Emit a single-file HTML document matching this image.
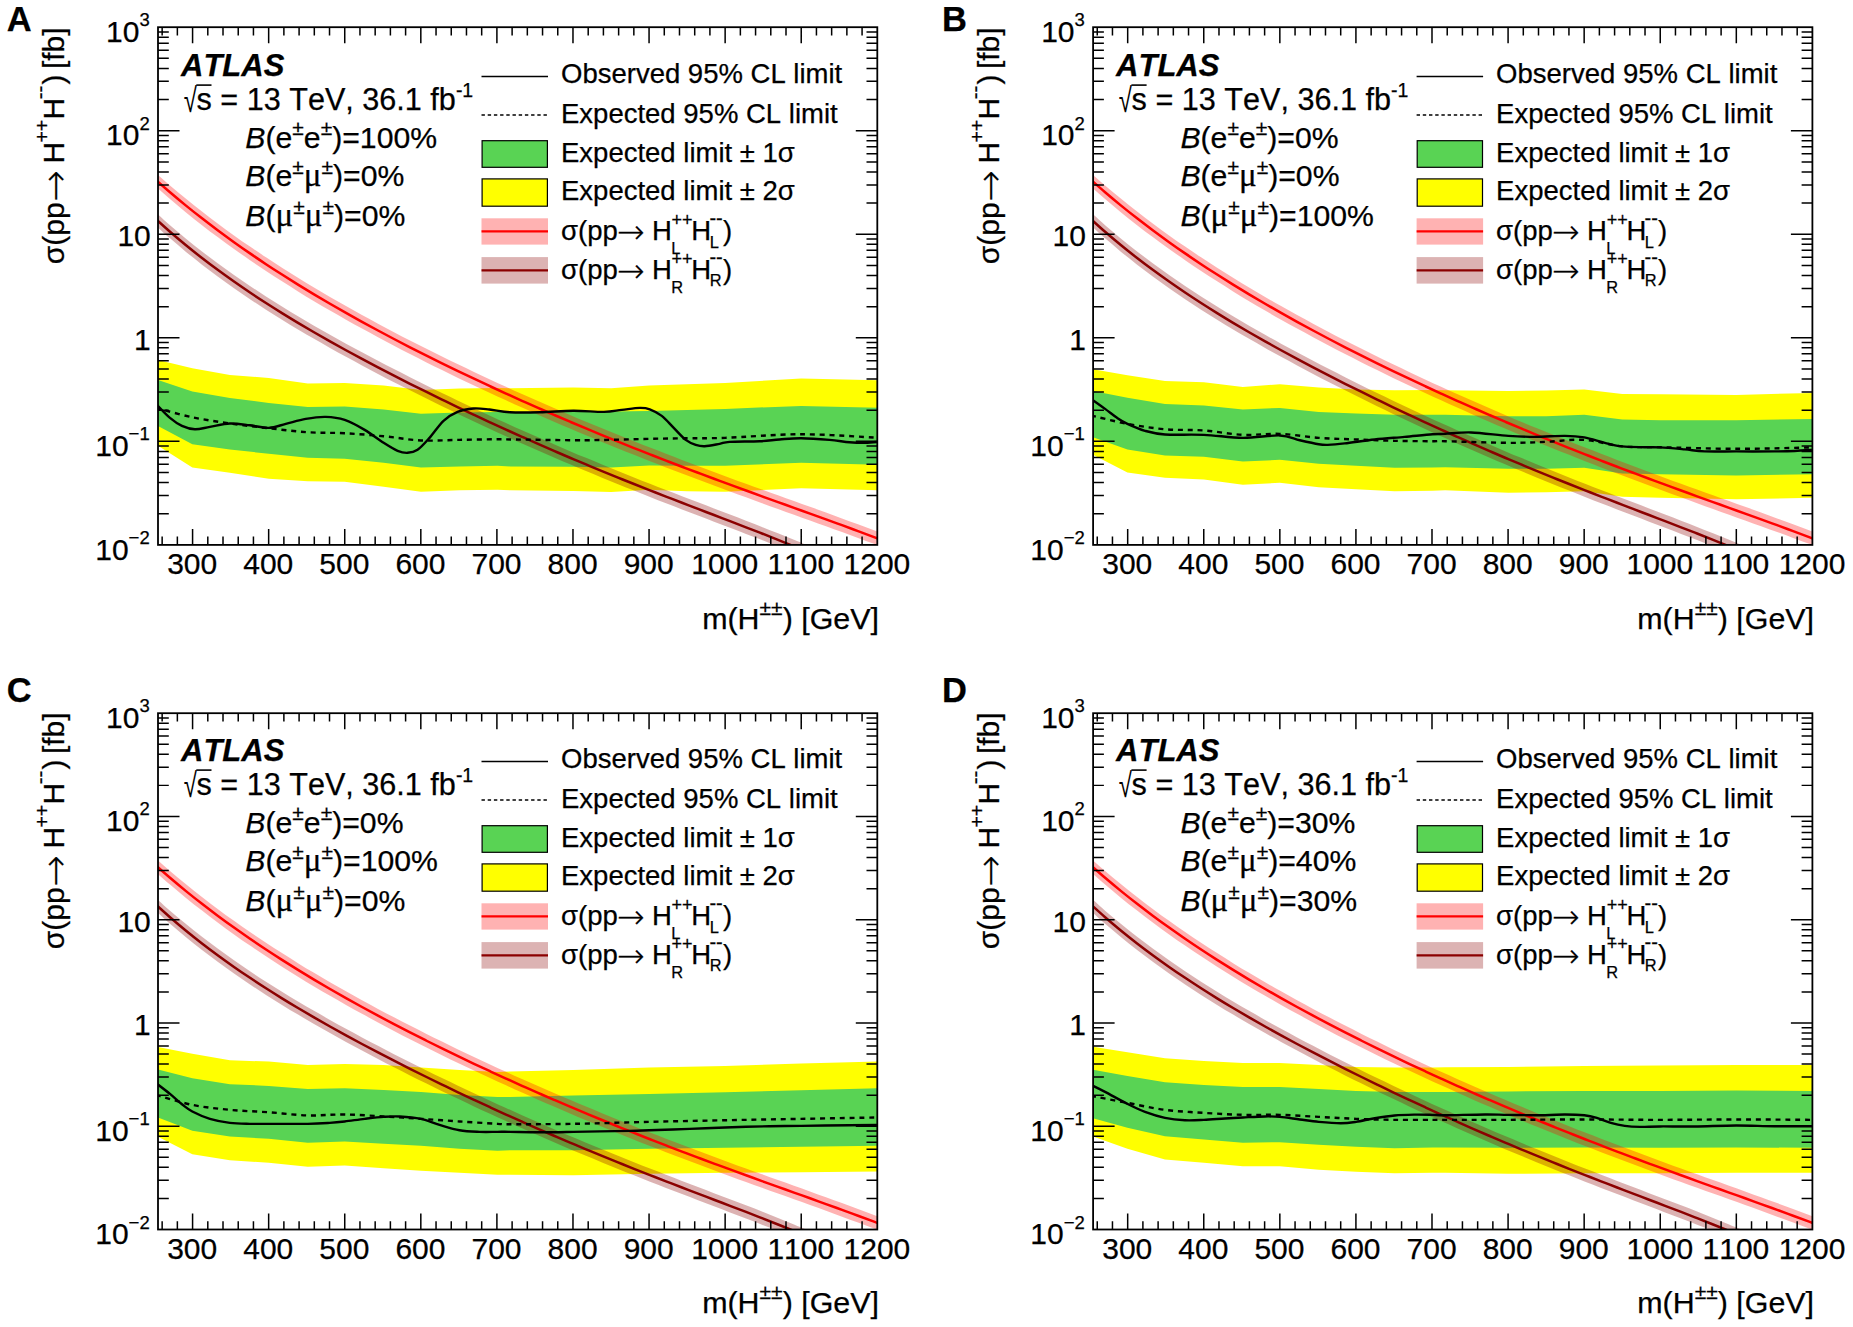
<!DOCTYPE html>
<html lang="en"><head><meta charset="utf-8"><title>Cross-section limits</title>
<style>html,body{margin:0;padding:0;background:#fff}svg{display:block}text{font-kerning:none;stroke:#000;stroke-width:.25px}</style></head><body>
<svg width="1853" height="1327" viewBox="0 0 1853 1327">
<rect width="1853" height="1327" fill="#fff"/>
<g transform="translate(158.00 27.20) scale(1 1.00000)">
<clipPath id="clipA"><rect x="0" y="0" width="719.30" height="517.70"/></clipPath>
<g clip-path="url(#clipA)">
<path d="M-2.00 332.36 L34.33 340.94 L71.87 347.73 L110.81 350.73 L149.75 356.32 L186.69 355.72 L225.63 358.32 L262.97 362.71 L301.50 361.31 L339.44 360.71 L352.00 361.11 L415.30 360.31 L453.24 361.11 L491.18 358.32 L529.12 357.12 L567.06 355.72 L643.13 351.33 L721.50 353.12 L721.50 462.96 L643.13 461.16 L567.06 464.56 L529.12 464.16 L491.18 462.56 L453.24 464.76 L415.30 463.76 L352.00 463.16 L339.44 462.56 L301.50 463.16 L262.97 464.56 L225.63 459.56 L186.69 454.57 L149.75 453.97 L110.81 451.58 L71.87 445.59 L34.33 440.19 L-2.00 417.23Z" fill="#ffff00"/>
<path d="M-2.00 352.13 L34.33 364.31 L71.87 370.70 L110.81 375.69 L149.75 379.68 L186.69 379.29 L225.63 382.28 L262.97 386.67 L301.50 385.28 L339.44 384.68 L352.00 384.68 L415.30 384.28 L453.24 384.28 L491.18 383.68 L529.12 382.68 L567.06 381.68 L643.13 378.69 L721.50 380.68 L721.50 437.60 L643.13 435.60 L567.06 438.60 L529.12 438.60 L491.18 438.20 L453.24 440.19 L415.30 439.59 L352.00 439.20 L339.44 438.60 L301.50 439.20 L262.97 440.19 L225.63 435.60 L186.69 431.61 L149.75 430.61 L110.81 426.61 L71.87 422.22 L34.33 417.03 L-2.00 397.66Z" fill="#59d354"/>
<path d="M-4.00 144.25 C-1.33 146.58 6.67 153.70 12.00 158.26 C17.33 162.82 22.67 167.26 28.00 171.61 C33.33 175.95 38.67 180.19 44.00 184.34 C49.33 188.50 54.67 192.55 60.00 196.52 C65.33 200.50 70.67 204.38 76.00 208.19 C81.33 212.00 86.67 215.73 92.00 219.39 C97.33 223.06 102.67 226.65 108.00 230.17 C113.33 233.70 118.67 237.16 124.00 240.57 C129.33 243.97 134.67 247.31 140.00 250.61 C145.33 253.90 150.67 257.14 156.00 260.33 C161.33 263.52 166.67 266.66 172.00 269.75 C177.33 272.85 182.67 275.90 188.00 278.91 C193.33 281.92 198.67 284.89 204.00 287.82 C209.33 290.75 214.67 293.65 220.00 296.51 C225.33 299.37 230.67 302.19 236.00 304.98 C241.33 307.78 246.67 310.54 252.00 313.27 C257.33 316.00 262.67 318.70 268.00 321.37 C273.33 324.04 278.67 326.69 284.00 329.31 C289.33 331.93 294.67 334.52 300.00 337.09 C305.33 339.66 310.67 342.20 316.00 344.72 C321.33 347.24 326.67 349.73 332.00 352.21 C337.33 354.68 342.67 357.13 348.00 359.56 C353.33 361.99 358.67 364.40 364.00 366.79 C369.33 369.17 374.67 371.54 380.00 373.89 C385.33 376.23 390.67 378.56 396.00 380.86 C401.33 383.17 406.67 385.46 412.00 387.72 C417.33 389.99 422.67 392.24 428.00 394.47 C433.33 396.70 438.67 398.91 444.00 401.11 C449.33 403.30 454.67 405.47 460.00 407.63 C465.33 409.79 470.67 411.93 476.00 414.06 C481.33 416.18 486.67 418.29 492.00 420.38 C497.33 422.47 502.67 424.54 508.00 426.61 C513.33 428.67 518.67 430.71 524.00 432.74 C529.33 434.77 534.67 436.79 540.00 438.79 C545.33 440.80 550.67 442.79 556.00 444.77 C561.33 446.75 566.67 448.72 572.00 450.68 C577.33 452.64 582.67 454.58 588.00 456.53 C593.33 458.47 598.67 460.40 604.00 462.33 C609.33 464.26 614.67 466.18 620.00 468.10 C625.33 470.02 630.67 471.94 636.00 473.85 C641.33 475.77 646.67 477.69 652.00 479.61 C657.33 481.53 662.67 483.45 668.00 485.38 C673.33 487.31 678.67 489.25 684.00 491.20 C689.33 493.15 694.67 495.11 700.00 497.08 C705.33 499.06 710.67 501.05 716.00 503.07 C721.33 505.08 729.33 508.16 732.00 509.17 L732.00 522.77 C729.33 521.76 721.33 518.68 716.00 516.67 C710.67 514.65 705.33 512.66 700.00 510.68 C694.67 508.71 689.33 506.75 684.00 504.80 C678.67 502.85 673.33 500.91 668.00 498.98 C662.67 497.05 657.33 495.13 652.00 493.21 C646.67 491.29 641.33 489.37 636.00 487.45 C630.67 485.54 625.33 483.62 620.00 481.70 C614.67 479.78 609.33 477.86 604.00 475.93 C598.67 474.00 593.33 472.07 588.00 470.13 C582.67 468.18 577.33 466.24 572.00 464.28 C566.67 462.32 561.33 460.35 556.00 458.37 C550.67 456.39 545.33 454.40 540.00 452.39 C534.67 450.39 529.33 448.37 524.00 446.34 C518.67 444.31 513.33 442.27 508.00 440.21 C502.67 438.14 497.33 436.07 492.00 433.98 C486.67 431.89 481.33 429.78 476.00 427.66 C470.67 425.53 465.33 423.39 460.00 421.23 C454.67 419.07 449.33 416.90 444.00 414.71 C438.67 412.51 433.33 410.30 428.00 408.07 C422.67 405.84 417.33 403.59 412.00 401.32 C406.67 399.06 401.33 396.77 396.00 394.46 C390.67 392.16 385.33 389.83 380.00 387.49 C374.67 385.14 369.33 382.77 364.00 380.39 C358.67 378.00 353.33 375.59 348.00 373.16 C342.67 370.73 337.33 368.28 332.00 365.81 C326.67 363.33 321.33 360.84 316.00 358.32 C310.67 355.80 305.33 353.26 300.00 350.69 C294.67 348.12 289.33 345.53 284.00 342.91 C278.67 340.29 273.33 337.64 268.00 334.97 C262.67 332.30 257.33 329.60 252.00 326.87 C246.67 324.14 241.33 321.38 236.00 318.58 C230.67 315.79 225.33 312.97 220.00 310.11 C214.67 307.25 209.33 304.35 204.00 301.42 C198.67 298.49 193.33 295.52 188.00 292.51 C182.67 289.50 177.33 286.45 172.00 283.35 C166.67 280.26 161.33 277.12 156.00 273.93 C150.67 270.74 145.33 267.50 140.00 264.21 C134.67 260.91 129.33 257.57 124.00 254.17 C118.67 250.76 113.33 247.30 108.00 243.77 C102.67 240.25 97.33 236.66 92.00 232.99 C86.67 229.33 81.33 225.60 76.00 221.79 C70.67 217.98 65.33 214.10 60.00 210.12 C54.67 206.15 49.33 202.10 44.00 197.94 C38.67 193.79 33.33 189.55 28.00 185.21 C22.67 180.86 17.33 176.42 12.00 171.86 C6.67 167.30 -1.33 160.18 -4.00 157.85Z" fill="#ff0000" fill-opacity="0.3"/>
<path d="M-4.00 151.05 C-1.33 153.38 6.67 160.50 12.00 165.06 C17.33 169.62 22.67 174.06 28.00 178.41 C33.33 182.75 38.67 186.99 44.00 191.14 C49.33 195.30 54.67 199.35 60.00 203.32 C65.33 207.30 70.67 211.18 76.00 214.99 C81.33 218.80 86.67 222.53 92.00 226.19 C97.33 229.86 102.67 233.45 108.00 236.97 C113.33 240.50 118.67 243.96 124.00 247.37 C129.33 250.77 134.67 254.11 140.00 257.41 C145.33 260.70 150.67 263.94 156.00 267.13 C161.33 270.32 166.67 273.46 172.00 276.55 C177.33 279.65 182.67 282.70 188.00 285.71 C193.33 288.72 198.67 291.69 204.00 294.62 C209.33 297.55 214.67 300.45 220.00 303.31 C225.33 306.17 230.67 308.99 236.00 311.78 C241.33 314.58 246.67 317.34 252.00 320.07 C257.33 322.80 262.67 325.50 268.00 328.17 C273.33 330.84 278.67 333.49 284.00 336.11 C289.33 338.73 294.67 341.32 300.00 343.89 C305.33 346.46 310.67 349.00 316.00 351.52 C321.33 354.04 326.67 356.53 332.00 359.01 C337.33 361.48 342.67 363.93 348.00 366.36 C353.33 368.79 358.67 371.20 364.00 373.59 C369.33 375.97 374.67 378.34 380.00 380.69 C385.33 383.03 390.67 385.36 396.00 387.66 C401.33 389.97 406.67 392.26 412.00 394.52 C417.33 396.79 422.67 399.04 428.00 401.27 C433.33 403.50 438.67 405.71 444.00 407.91 C449.33 410.10 454.67 412.27 460.00 414.43 C465.33 416.59 470.67 418.73 476.00 420.86 C481.33 422.98 486.67 425.09 492.00 427.18 C497.33 429.27 502.67 431.34 508.00 433.41 C513.33 435.47 518.67 437.51 524.00 439.54 C529.33 441.57 534.67 443.59 540.00 445.59 C545.33 447.60 550.67 449.59 556.00 451.57 C561.33 453.55 566.67 455.52 572.00 457.48 C577.33 459.44 582.67 461.38 588.00 463.33 C593.33 465.27 598.67 467.20 604.00 469.13 C609.33 471.06 614.67 472.98 620.00 474.90 C625.33 476.82 630.67 478.74 636.00 480.65 C641.33 482.57 646.67 484.49 652.00 486.41 C657.33 488.33 662.67 490.25 668.00 492.18 C673.33 494.11 678.67 496.05 684.00 498.00 C689.33 499.95 694.67 501.91 700.00 503.88 C705.33 505.86 710.67 507.85 716.00 509.87 C721.33 511.88 729.33 514.96 732.00 515.97" fill="none" stroke="#ff0000" stroke-width="2.5"/>
<path d="M-4.00 183.61 C-1.33 186.01 6.67 193.33 12.00 197.97 C17.33 202.62 22.67 207.11 28.00 211.48 C33.33 215.86 38.67 220.09 44.00 224.23 C49.33 228.37 54.67 232.38 60.00 236.31 C65.33 240.24 70.67 244.05 76.00 247.79 C81.33 251.53 86.67 255.17 92.00 258.74 C97.33 262.32 102.67 265.81 108.00 269.24 C113.33 272.66 118.67 276.02 124.00 279.32 C129.33 282.62 134.67 285.85 140.00 289.04 C145.33 292.22 150.67 295.35 156.00 298.44 C161.33 301.53 166.67 304.57 172.00 307.57 C177.33 310.57 182.67 313.52 188.00 316.44 C193.33 319.37 198.67 322.25 204.00 325.10 C209.33 327.96 214.67 330.77 220.00 333.56 C225.33 336.35 230.67 339.11 236.00 341.85 C241.33 344.58 246.67 347.29 252.00 349.97 C257.33 352.65 262.67 355.31 268.00 357.94 C273.33 360.58 278.67 363.19 284.00 365.78 C289.33 368.36 294.67 370.93 300.00 373.48 C305.33 376.02 310.67 378.54 316.00 381.05 C321.33 383.55 326.67 386.03 332.00 388.50 C337.33 390.96 342.67 393.40 348.00 395.82 C353.33 398.24 358.67 400.65 364.00 403.03 C369.33 405.41 374.67 407.77 380.00 410.11 C385.33 412.46 390.67 414.78 396.00 417.08 C401.33 419.38 406.67 421.67 412.00 423.93 C417.33 426.19 422.67 428.44 428.00 430.67 C433.33 432.89 438.67 435.10 444.00 437.29 C449.33 439.48 454.67 441.65 460.00 443.81 C465.33 445.96 470.67 448.10 476.00 450.22 C481.33 452.35 486.67 454.45 492.00 456.55 C497.33 458.64 502.67 460.72 508.00 462.79 C513.33 464.86 518.67 466.92 524.00 468.98 C529.33 471.03 534.67 473.07 540.00 475.11 C545.33 477.15 550.67 479.19 556.00 481.23 C561.33 483.27 566.67 485.30 572.00 487.34 C577.33 489.39 582.67 491.43 588.00 493.50 C593.33 495.56 598.67 497.63 604.00 499.72 C609.33 501.82 614.67 503.92 620.00 506.06 C625.33 508.21 630.67 510.36 636.00 512.57 C641.33 514.77 649.33 518.17 652.00 519.29 L652.00 532.49 C649.33 531.37 641.33 527.97 636.00 525.77 C630.67 523.56 625.33 521.41 620.00 519.26 C614.67 517.12 609.33 515.02 604.00 512.92 C598.67 510.83 593.33 508.76 588.00 506.70 C582.67 504.63 577.33 502.59 572.00 500.54 C566.67 498.50 561.33 496.47 556.00 494.43 C550.67 492.39 545.33 490.35 540.00 488.31 C534.67 486.27 529.33 484.23 524.00 482.18 C518.67 480.12 513.33 478.06 508.00 475.99 C502.67 473.92 497.33 471.84 492.00 469.75 C486.67 467.65 481.33 465.55 476.00 463.42 C470.67 461.30 465.33 459.16 460.00 457.01 C454.67 454.85 449.33 452.68 444.00 450.49 C438.67 448.30 433.33 446.09 428.00 443.87 C422.67 441.64 417.33 439.39 412.00 437.13 C406.67 434.87 401.33 432.58 396.00 430.28 C390.67 427.98 385.33 425.66 380.00 423.31 C374.67 420.97 369.33 418.61 364.00 416.23 C358.67 413.85 353.33 411.44 348.00 409.02 C342.67 406.60 337.33 404.16 332.00 401.70 C326.67 399.23 321.33 396.75 316.00 394.25 C310.67 391.74 305.33 389.22 300.00 386.68 C294.67 384.13 289.33 381.56 284.00 378.98 C278.67 376.39 273.33 373.78 268.00 371.14 C262.67 368.51 257.33 365.85 252.00 363.17 C246.67 360.49 241.33 357.78 236.00 355.05 C230.67 352.31 225.33 349.55 220.00 346.76 C214.67 343.97 209.33 341.16 204.00 338.30 C198.67 335.45 193.33 332.57 188.00 329.64 C182.67 326.72 177.33 323.77 172.00 320.77 C166.67 317.77 161.33 314.73 156.00 311.64 C150.67 308.55 145.33 305.42 140.00 302.24 C134.67 299.05 129.33 295.82 124.00 292.52 C118.67 289.22 113.33 285.86 108.00 282.44 C102.67 279.01 97.33 275.52 92.00 271.94 C86.67 268.37 81.33 264.73 76.00 260.99 C70.67 257.25 65.33 253.44 60.00 249.51 C54.67 245.58 49.33 241.57 44.00 237.43 C38.67 233.29 33.33 229.06 28.00 224.68 C22.67 220.31 17.33 215.82 12.00 211.17 C6.67 206.53 -1.33 199.21 -4.00 196.81Z" fill="#8b0000" fill-opacity="0.3"/>
<path d="M-4.00 190.21 C-1.33 192.61 6.67 199.93 12.00 204.57 C17.33 209.22 22.67 213.71 28.00 218.08 C33.33 222.46 38.67 226.69 44.00 230.83 C49.33 234.97 54.67 238.98 60.00 242.91 C65.33 246.84 70.67 250.65 76.00 254.39 C81.33 258.13 86.67 261.77 92.00 265.34 C97.33 268.92 102.67 272.41 108.00 275.84 C113.33 279.26 118.67 282.62 124.00 285.92 C129.33 289.22 134.67 292.45 140.00 295.64 C145.33 298.82 150.67 301.95 156.00 305.04 C161.33 308.13 166.67 311.17 172.00 314.17 C177.33 317.17 182.67 320.12 188.00 323.04 C193.33 325.97 198.67 328.85 204.00 331.70 C209.33 334.56 214.67 337.37 220.00 340.16 C225.33 342.95 230.67 345.71 236.00 348.45 C241.33 351.18 246.67 353.89 252.00 356.57 C257.33 359.25 262.67 361.91 268.00 364.54 C273.33 367.18 278.67 369.79 284.00 372.38 C289.33 374.96 294.67 377.53 300.00 380.08 C305.33 382.62 310.67 385.14 316.00 387.65 C321.33 390.15 326.67 392.63 332.00 395.10 C337.33 397.56 342.67 400.00 348.00 402.42 C353.33 404.84 358.67 407.25 364.00 409.63 C369.33 412.01 374.67 414.37 380.00 416.71 C385.33 419.06 390.67 421.38 396.00 423.68 C401.33 425.98 406.67 428.27 412.00 430.53 C417.33 432.79 422.67 435.04 428.00 437.27 C433.33 439.49 438.67 441.70 444.00 443.89 C449.33 446.08 454.67 448.25 460.00 450.41 C465.33 452.56 470.67 454.70 476.00 456.82 C481.33 458.95 486.67 461.05 492.00 463.15 C497.33 465.24 502.67 467.32 508.00 469.39 C513.33 471.46 518.67 473.52 524.00 475.58 C529.33 477.63 534.67 479.67 540.00 481.71 C545.33 483.75 550.67 485.79 556.00 487.83 C561.33 489.87 566.67 491.90 572.00 493.94 C577.33 495.99 582.67 498.03 588.00 500.10 C593.33 502.16 598.67 504.23 604.00 506.32 C609.33 508.42 614.67 510.52 620.00 512.66 C625.33 514.81 630.67 516.96 636.00 519.17 C641.33 521.37 649.33 524.77 652.00 525.89" fill="none" stroke="#8b0000" stroke-width="2.5"/>
<path d="M-2.00 380.68 C4.06 382.25 22.02 387.47 34.33 390.07 C46.64 392.67 59.13 394.43 71.87 396.26 C84.62 398.09 97.83 399.59 110.81 401.05 C123.79 402.52 137.10 404.21 149.75 405.05 C162.39 405.88 174.04 405.38 186.69 406.05 C199.33 406.71 212.91 407.84 225.63 409.04 C238.34 410.24 250.32 412.64 262.97 413.23 C275.61 413.83 288.76 412.83 301.50 412.64 C314.25 412.44 331.03 412.10 339.44 412.04 C347.86 411.97 339.36 412.07 352.00 412.24 C364.64 412.40 398.43 412.97 415.30 413.03 C432.17 413.10 440.59 412.87 453.24 412.64 C465.88 412.40 478.53 411.90 491.18 411.64 C503.82 411.37 516.47 411.20 529.12 411.04 C541.76 410.87 548.05 411.30 567.06 410.64 C586.06 409.97 617.39 407.04 643.13 407.04 C668.87 407.04 708.44 410.04 721.50 410.64" fill="none" stroke="#000" stroke-width="2.4" stroke-dasharray="5 4.8"/>
<path d="M-2.00 376.69 C0.33 379.02 7.64 387.01 11.97 390.67 C16.29 394.33 19.79 396.76 23.95 398.66 C28.11 400.55 32.27 401.88 36.93 402.05 C41.59 402.22 46.08 400.62 51.90 399.65 C57.73 398.69 65.22 396.53 71.87 396.26 C78.53 395.99 85.35 397.32 91.84 398.06 C98.33 398.79 104.82 400.89 110.81 400.65 C116.80 400.42 121.63 398.16 127.78 396.66 C133.94 395.16 141.09 392.83 147.75 391.67 C154.41 390.50 161.23 389.50 167.72 389.67 C174.21 389.84 180.20 390.50 186.69 392.67 C193.18 394.83 200.17 398.82 206.66 402.65 C213.15 406.48 220.13 412.14 225.63 415.63 C231.12 419.13 235.61 421.95 239.60 423.62 C243.60 425.28 246.26 425.78 249.59 425.62 C252.92 425.45 255.91 425.12 259.57 422.62 C263.23 420.12 267.23 415.46 271.55 410.64 C275.88 405.81 280.87 397.99 285.53 393.66 C290.19 389.34 294.52 386.74 299.51 384.68 C304.50 382.61 310.16 381.68 315.48 381.28 C320.81 380.88 325.37 381.65 331.46 382.28 C337.54 382.91 343.58 384.61 352.00 385.08 C360.42 385.54 371.40 385.34 381.95 385.08 C392.50 384.81 404.65 383.55 415.30 383.48 C425.95 383.41 437.76 384.81 445.85 384.68 C453.94 384.54 457.83 383.35 463.82 382.68 C469.81 382.01 477.13 380.78 481.79 380.68 C486.45 380.58 488.12 380.75 491.78 382.08 C495.44 383.41 499.76 385.58 503.76 388.67 C507.75 391.77 511.74 396.66 515.74 400.65 C519.73 404.65 524.06 409.81 527.72 412.64 C531.38 415.46 534.54 416.56 537.70 417.63 C540.86 418.69 542.69 419.19 546.69 419.03 C550.68 418.86 557.50 417.36 561.66 416.63 C565.82 415.90 564.99 415.06 571.65 414.63 C578.30 414.20 593.28 414.43 601.60 414.03 C609.92 413.63 614.65 412.74 621.57 412.24 C628.49 411.74 634.81 410.97 643.13 411.04 C651.45 411.10 663.44 411.97 671.49 412.64 C679.54 413.30 685.47 414.53 691.46 415.03 C697.45 415.53 702.42 415.70 707.43 415.63 C712.44 415.56 719.16 414.80 721.50 414.63" fill="none" stroke="#000" stroke-width="2.4"/>
</g>
<path d="M0 486.53H10.8 M719.30 486.53H708.50 M0 468.30H10.8 M719.30 468.30H708.50 M0 455.36H10.8 M719.30 455.36H708.50 M0 445.33H10.8 M719.30 445.33H708.50 M0 437.13H10.8 M719.30 437.13H708.50 M0 430.20H10.8 M719.30 430.20H708.50 M0 424.19H10.8 M719.30 424.19H708.50 M0 418.90H10.8 M719.30 418.90H708.50 M0 414.16H21.5 M719.30 414.16H697.80 M0 382.99H10.8 M719.30 382.99H708.50 M0 364.76H10.8 M719.30 364.76H708.50 M0 351.82H10.8 M719.30 351.82H708.50 M0 341.79H10.8 M719.30 341.79H708.50 M0 333.59H10.8 M719.30 333.59H708.50 M0 326.66H10.8 M719.30 326.66H708.50 M0 320.65H10.8 M719.30 320.65H708.50 M0 315.36H10.8 M719.30 315.36H708.50 M0 310.62H21.5 M719.30 310.62H697.80 M0 279.45H10.8 M719.30 279.45H708.50 M0 261.22H10.8 M719.30 261.22H708.50 M0 248.28H10.8 M719.30 248.28H708.50 M0 238.25H10.8 M719.30 238.25H708.50 M0 230.05H10.8 M719.30 230.05H708.50 M0 223.12H10.8 M719.30 223.12H708.50 M0 217.11H10.8 M719.30 217.11H708.50 M0 211.82H10.8 M719.30 211.82H708.50 M0 207.08H21.5 M719.30 207.08H697.80 M0 175.91H10.8 M719.30 175.91H708.50 M0 157.68H10.8 M719.30 157.68H708.50 M0 144.74H10.8 M719.30 144.74H708.50 M0 134.71H10.8 M719.30 134.71H708.50 M0 126.51H10.8 M719.30 126.51H708.50 M0 119.58H10.8 M719.30 119.58H708.50 M0 113.57H10.8 M719.30 113.57H708.50 M0 108.28H10.8 M719.30 108.28H708.50 M0 103.54H21.5 M719.30 103.54H697.80 M0 72.37H10.8 M719.30 72.37H708.50 M0 54.14H10.8 M719.30 54.14H708.50 M0 41.20H10.8 M719.30 41.20H708.50 M0 31.17H10.8 M719.30 31.17H708.50 M0 22.97H10.8 M719.30 22.97H708.50 M0 16.04H10.8 M719.30 16.04H708.50 M0 10.03H10.8 M719.30 10.03H708.50 M0 4.74H10.8 M719.30 4.74H708.50 M4.15 517.70V509.40 M4.15 0V8.30 M19.36 517.70V509.40 M19.36 0V8.30 M34.58 517.70V501.70 M34.58 0V16.00 M49.80 517.70V509.40 M49.80 0V8.30 M65.01 517.70V509.40 M65.01 0V8.30 M80.23 517.70V509.40 M80.23 0V8.30 M95.44 517.70V509.40 M95.44 0V8.30 M110.66 517.70V501.70 M110.66 0V16.00 M125.88 517.70V509.40 M125.88 0V8.30 M141.09 517.70V509.40 M141.09 0V8.30 M156.31 517.70V509.40 M156.31 0V8.30 M171.52 517.70V509.40 M171.52 0V8.30 M186.74 517.70V501.70 M186.74 0V16.00 M201.96 517.70V509.40 M201.96 0V8.30 M217.17 517.70V509.40 M217.17 0V8.30 M232.39 517.70V509.40 M232.39 0V8.30 M247.60 517.70V509.40 M247.60 0V8.30 M262.82 517.70V501.70 M262.82 0V16.00 M278.04 517.70V509.40 M278.04 0V8.30 M293.25 517.70V509.40 M293.25 0V8.30 M308.47 517.70V509.40 M308.47 0V8.30 M323.68 517.70V509.40 M323.68 0V8.30 M338.90 517.70V501.70 M338.90 0V16.00 M354.12 517.70V509.40 M354.12 0V8.30 M369.33 517.70V509.40 M369.33 0V8.30 M384.55 517.70V509.40 M384.55 0V8.30 M399.76 517.70V509.40 M399.76 0V8.30 M414.98 517.70V501.70 M414.98 0V16.00 M430.20 517.70V509.40 M430.20 0V8.30 M445.41 517.70V509.40 M445.41 0V8.30 M460.63 517.70V509.40 M460.63 0V8.30 M475.84 517.70V509.40 M475.84 0V8.30 M491.06 517.70V501.70 M491.06 0V16.00 M506.28 517.70V509.40 M506.28 0V8.30 M521.49 517.70V509.40 M521.49 0V8.30 M536.71 517.70V509.40 M536.71 0V8.30 M551.92 517.70V509.40 M551.92 0V8.30 M567.14 517.70V501.70 M567.14 0V16.00 M582.36 517.70V509.40 M582.36 0V8.30 M597.57 517.70V509.40 M597.57 0V8.30 M612.79 517.70V509.40 M612.79 0V8.30 M628.00 517.70V509.40 M628.00 0V8.30 M643.22 517.70V501.70 M643.22 0V16.00 M658.44 517.70V509.40 M658.44 0V8.30 M673.65 517.70V509.40 M673.65 0V8.30 M688.87 517.70V509.40 M688.87 0V8.30 M704.08 517.70V509.40 M704.08 0V8.30" stroke="#000" stroke-width="1.5" fill="none"/>
<rect x="0" y="0" width="719.30" height="517.70" fill="none" stroke="#000" stroke-width="1.8"/>
</g>
<g font-family="'Liberation Sans', sans-serif" font-size="30" fill="#000"><text x="192.18" y="574.00" text-anchor="middle">300</text><text x="268.26" y="574.00" text-anchor="middle">400</text><text x="344.34" y="574.00" text-anchor="middle">500</text><text x="420.42" y="574.00" text-anchor="middle">600</text><text x="496.50" y="574.00" text-anchor="middle">700</text><text x="572.58" y="574.00" text-anchor="middle">800</text><text x="648.66" y="574.00" text-anchor="middle">900</text><text x="724.74" y="574.00" text-anchor="middle">1000</text><text x="800.82" y="574.00" text-anchor="middle">1100</text><text x="876.90" y="574.00" text-anchor="middle">1200</text><text x="149.70" y="41.80" text-anchor="end">10<tspan dy="-15.6" font-size="18.5">3</tspan></text><text x="149.70" y="145.34" text-anchor="end">10<tspan dy="-15.6" font-size="18.5">2</tspan></text><text x="150.80" y="246.48" text-anchor="end">10</text><text x="150.80" y="350.02" text-anchor="end">1</text><text x="149.70" y="455.96" text-anchor="end">10<tspan dy="-15.6" font-size="18.5">−1</tspan></text><text x="149.70" y="559.50" text-anchor="end">10<tspan dy="-15.6" font-size="18.5">−2</tspan></text></g>
<text x="6.80" y="31.20" font-family="'Liberation Sans', sans-serif" font-size="34.5" font-weight="bold">A</text>
<text x="878.90" y="628.70" font-family="'Liberation Sans', sans-serif" font-size="30.4" text-anchor="end">m(H<tspan dy="-14" font-size="21">±±</tspan><tspan dy="14">) [GeV]</tspan></text>
<g transform="translate(64.30 264.00) rotate(-90)" font-family="'Liberation Sans', sans-serif" font-size="30" fill="#000">
<text x="-0.3" y="0">σ(pp</text>
<text x="62.6" y="3.3" font-family="'DejaVu Sans', sans-serif" font-size="37.4" font-weight="200">→</text>
<text x="100.4" y="0">H</text>
<text x="121.4" y="-15" font-size="19.5">++</text>
<text x="144.4" y="0">H</text>
<text x="164.7" y="-17.8" font-size="20.5">--</text>
<text x="179.4" y="0">)</text>
<text x="194.9" y="0">[fb]</text>
</g>
<text x="181.00" y="76.20" font-family="'Liberation Sans', sans-serif" font-size="31" font-weight="bold" font-style="italic">ATLAS</text>
<text transform="translate(183.70 111.50) scale(0.70 1)" font-family="'Liberation Sans', sans-serif" font-size="34.2" style="stroke-width:0">√</text>
<path d="M196.30 85.10h15.2" fill="none" stroke="#000" stroke-width="1.6"/>
<text x="196.50" y="110.00" font-family="'Liberation Sans', sans-serif" font-size="30.6">s = 13 TeV, 36.1 fb<tspan dy="-13" font-size="19.5">-1</tspan></text>
<text x="245.30" y="148.00" font-family="'Liberation Sans', sans-serif" font-size="30.2"><tspan font-style="italic">B</tspan>(<tspan>e</tspan><tspan dy="-12.6" font-size="21">±</tspan><tspan dy="12.6">e</tspan><tspan dy="-12.6" font-size="21">±</tspan><tspan dy="12.6">)=100%</tspan></text>
<text x="245.30" y="186.20" font-family="'Liberation Sans', sans-serif" font-size="30.2"><tspan font-style="italic">B</tspan>(<tspan>e</tspan><tspan dy="-12.6" font-size="21">±</tspan><tspan dy="12.6" font-family="'Liberation Serif', serif" font-size="33">μ</tspan><tspan dy="-12.6" font-size="21">±</tspan><tspan dy="12.6">)=0%</tspan></text>
<text x="245.30" y="226.10" font-family="'Liberation Sans', sans-serif" font-size="30.2"><tspan font-style="italic">B</tspan>(<tspan font-family="'Liberation Serif', serif" font-size="33">μ</tspan><tspan dy="-12.6" font-size="21">±</tspan><tspan dy="12.6" font-family="'Liberation Serif', serif" font-size="33">μ</tspan><tspan dy="-12.6" font-size="21">±</tspan><tspan dy="12.6">)=0%</tspan></text>
<g font-family="'Liberation Sans', sans-serif" font-size="27.5" fill="#000">
<path d="M481.50 76.50H548.00" stroke="#000" stroke-width="1.6"/>
<text x="561.00" y="83.40">Observed 95% CL limit</text>
<path d="M481.50 115.00H548.00" stroke="#000" stroke-width="1.5" stroke-dasharray="3.4 2.8"/>
<text x="561.00" y="122.60">Expected 95% CL limit</text>
<rect x="482.10" y="140.70" width="65.30" height="26.6" fill="#59d354" stroke="#000" stroke-width="1.2"/>
<text x="561.00" y="161.70">Expected limit ± 1σ</text>
<rect x="482.10" y="178.90" width="65.30" height="27.3" fill="#ffff00" stroke="#000" stroke-width="1.2"/>
<text x="561.00" y="200.30">Expected limit ± 2σ</text>
<rect x="481.50" y="218.30" width="66.50" height="26.3" fill="#ffb2b2"/>
<path d="M481.50 231.40H548.00" stroke="#ff0000" stroke-width="2.2"/>
<rect x="481.50" y="257.10" width="66.50" height="26.5" fill="#dcb3b3"/>
<path d="M481.50 270.30H548.00" stroke="#8b0000" stroke-width="2.2"/>
<text x="561.00" y="240.10">σ(pp</text>
<text x="616.90" y="243.20" font-family="'DejaVu Sans', sans-serif" font-size="33" font-weight="200">→</text>
<text x="652.00" y="240.10">H</text>
<text x="671.60" y="226.10" font-size="18">++</text>
<text x="691.30" y="240.10">H</text>
<text x="709.40" y="224.70" font-size="20">--</text>
<text x="723.00" y="240.10">)</text>
<text x="671.20" y="254.30" font-size="16.4">L</text>
<text x="709.70" y="247.50" font-size="16.4">L</text>
<text x="561.00" y="279.00">σ(pp</text>
<text x="616.90" y="282.10" font-family="'DejaVu Sans', sans-serif" font-size="33" font-weight="200">→</text>
<text x="652.00" y="279.00">H</text>
<text x="671.60" y="265.00" font-size="18">++</text>
<text x="691.30" y="279.00">H</text>
<text x="709.40" y="263.60" font-size="20">--</text>
<text x="723.00" y="279.00">)</text>
<text x="671.20" y="293.20" font-size="16.4">R</text>
<text x="709.70" y="286.40" font-size="16.4">R</text>
</g>
<g transform="translate(1093.10 27.20) scale(1 1.00000)">
<clipPath id="clipB"><rect x="0" y="0" width="719.30" height="517.70"/></clipPath>
<g clip-path="url(#clipB)">
<path d="M-2.00 341.74 L34.33 348.13 L71.87 353.72 L110.81 355.12 L149.75 359.71 L186.69 357.12 L225.63 360.31 L262.97 362.31 L301.50 363.11 L339.44 362.71 L352.00 363.11 L415.30 363.71 L453.24 363.31 L491.18 362.31 L529.12 366.70 L567.06 367.10 L643.13 367.70 L721.50 365.71 L721.50 470.55 L643.13 472.15 L567.06 470.55 L529.12 469.55 L491.18 464.16 L453.24 464.96 L415.30 465.56 L352.00 463.16 L339.44 463.56 L301.50 464.16 L262.97 462.16 L225.63 460.16 L186.69 455.57 L149.75 457.57 L110.81 452.18 L71.87 450.58 L34.33 445.39 L-2.00 426.61Z" fill="#ffff00"/>
<path d="M-2.00 363.31 L34.33 370.50 L71.87 376.69 L110.81 378.29 L149.75 382.28 L186.69 380.68 L225.63 384.68 L262.97 386.27 L301.50 387.67 L339.44 387.67 L352.00 387.67 L415.30 389.07 L453.24 389.07 L491.18 387.67 L529.12 392.27 L567.06 393.06 L643.13 393.06 L721.50 391.67 L721.50 446.98 L643.13 448.18 L567.06 446.98 L529.12 446.18 L491.18 440.59 L453.24 441.59 L415.30 441.59 L352.00 439.99 L339.44 440.19 L301.50 440.59 L262.97 438.60 L225.63 436.60 L186.69 432.61 L149.75 434.20 L110.81 429.61 L71.87 428.21 L34.33 422.42 L-2.00 409.44Z" fill="#59d354"/>
<path d="M-4.00 144.25 C-1.33 146.58 6.67 153.70 12.00 158.26 C17.33 162.82 22.67 167.26 28.00 171.61 C33.33 175.95 38.67 180.19 44.00 184.34 C49.33 188.50 54.67 192.55 60.00 196.52 C65.33 200.50 70.67 204.38 76.00 208.19 C81.33 212.00 86.67 215.73 92.00 219.39 C97.33 223.06 102.67 226.65 108.00 230.17 C113.33 233.70 118.67 237.16 124.00 240.57 C129.33 243.97 134.67 247.31 140.00 250.61 C145.33 253.90 150.67 257.14 156.00 260.33 C161.33 263.52 166.67 266.66 172.00 269.75 C177.33 272.85 182.67 275.90 188.00 278.91 C193.33 281.92 198.67 284.89 204.00 287.82 C209.33 290.75 214.67 293.65 220.00 296.51 C225.33 299.37 230.67 302.19 236.00 304.98 C241.33 307.78 246.67 310.54 252.00 313.27 C257.33 316.00 262.67 318.70 268.00 321.37 C273.33 324.04 278.67 326.69 284.00 329.31 C289.33 331.93 294.67 334.52 300.00 337.09 C305.33 339.66 310.67 342.20 316.00 344.72 C321.33 347.24 326.67 349.73 332.00 352.21 C337.33 354.68 342.67 357.13 348.00 359.56 C353.33 361.99 358.67 364.40 364.00 366.79 C369.33 369.17 374.67 371.54 380.00 373.89 C385.33 376.23 390.67 378.56 396.00 380.86 C401.33 383.17 406.67 385.46 412.00 387.72 C417.33 389.99 422.67 392.24 428.00 394.47 C433.33 396.70 438.67 398.91 444.00 401.11 C449.33 403.30 454.67 405.47 460.00 407.63 C465.33 409.79 470.67 411.93 476.00 414.06 C481.33 416.18 486.67 418.29 492.00 420.38 C497.33 422.47 502.67 424.54 508.00 426.61 C513.33 428.67 518.67 430.71 524.00 432.74 C529.33 434.77 534.67 436.79 540.00 438.79 C545.33 440.80 550.67 442.79 556.00 444.77 C561.33 446.75 566.67 448.72 572.00 450.68 C577.33 452.64 582.67 454.58 588.00 456.53 C593.33 458.47 598.67 460.40 604.00 462.33 C609.33 464.26 614.67 466.18 620.00 468.10 C625.33 470.02 630.67 471.94 636.00 473.85 C641.33 475.77 646.67 477.69 652.00 479.61 C657.33 481.53 662.67 483.45 668.00 485.38 C673.33 487.31 678.67 489.25 684.00 491.20 C689.33 493.15 694.67 495.11 700.00 497.08 C705.33 499.06 710.67 501.05 716.00 503.07 C721.33 505.08 729.33 508.16 732.00 509.17 L732.00 522.77 C729.33 521.76 721.33 518.68 716.00 516.67 C710.67 514.65 705.33 512.66 700.00 510.68 C694.67 508.71 689.33 506.75 684.00 504.80 C678.67 502.85 673.33 500.91 668.00 498.98 C662.67 497.05 657.33 495.13 652.00 493.21 C646.67 491.29 641.33 489.37 636.00 487.45 C630.67 485.54 625.33 483.62 620.00 481.70 C614.67 479.78 609.33 477.86 604.00 475.93 C598.67 474.00 593.33 472.07 588.00 470.13 C582.67 468.18 577.33 466.24 572.00 464.28 C566.67 462.32 561.33 460.35 556.00 458.37 C550.67 456.39 545.33 454.40 540.00 452.39 C534.67 450.39 529.33 448.37 524.00 446.34 C518.67 444.31 513.33 442.27 508.00 440.21 C502.67 438.14 497.33 436.07 492.00 433.98 C486.67 431.89 481.33 429.78 476.00 427.66 C470.67 425.53 465.33 423.39 460.00 421.23 C454.67 419.07 449.33 416.90 444.00 414.71 C438.67 412.51 433.33 410.30 428.00 408.07 C422.67 405.84 417.33 403.59 412.00 401.32 C406.67 399.06 401.33 396.77 396.00 394.46 C390.67 392.16 385.33 389.83 380.00 387.49 C374.67 385.14 369.33 382.77 364.00 380.39 C358.67 378.00 353.33 375.59 348.00 373.16 C342.67 370.73 337.33 368.28 332.00 365.81 C326.67 363.33 321.33 360.84 316.00 358.32 C310.67 355.80 305.33 353.26 300.00 350.69 C294.67 348.12 289.33 345.53 284.00 342.91 C278.67 340.29 273.33 337.64 268.00 334.97 C262.67 332.30 257.33 329.60 252.00 326.87 C246.67 324.14 241.33 321.38 236.00 318.58 C230.67 315.79 225.33 312.97 220.00 310.11 C214.67 307.25 209.33 304.35 204.00 301.42 C198.67 298.49 193.33 295.52 188.00 292.51 C182.67 289.50 177.33 286.45 172.00 283.35 C166.67 280.26 161.33 277.12 156.00 273.93 C150.67 270.74 145.33 267.50 140.00 264.21 C134.67 260.91 129.33 257.57 124.00 254.17 C118.67 250.76 113.33 247.30 108.00 243.77 C102.67 240.25 97.33 236.66 92.00 232.99 C86.67 229.33 81.33 225.60 76.00 221.79 C70.67 217.98 65.33 214.10 60.00 210.12 C54.67 206.15 49.33 202.10 44.00 197.94 C38.67 193.79 33.33 189.55 28.00 185.21 C22.67 180.86 17.33 176.42 12.00 171.86 C6.67 167.30 -1.33 160.18 -4.00 157.85Z" fill="#ff0000" fill-opacity="0.3"/>
<path d="M-4.00 151.05 C-1.33 153.38 6.67 160.50 12.00 165.06 C17.33 169.62 22.67 174.06 28.00 178.41 C33.33 182.75 38.67 186.99 44.00 191.14 C49.33 195.30 54.67 199.35 60.00 203.32 C65.33 207.30 70.67 211.18 76.00 214.99 C81.33 218.80 86.67 222.53 92.00 226.19 C97.33 229.86 102.67 233.45 108.00 236.97 C113.33 240.50 118.67 243.96 124.00 247.37 C129.33 250.77 134.67 254.11 140.00 257.41 C145.33 260.70 150.67 263.94 156.00 267.13 C161.33 270.32 166.67 273.46 172.00 276.55 C177.33 279.65 182.67 282.70 188.00 285.71 C193.33 288.72 198.67 291.69 204.00 294.62 C209.33 297.55 214.67 300.45 220.00 303.31 C225.33 306.17 230.67 308.99 236.00 311.78 C241.33 314.58 246.67 317.34 252.00 320.07 C257.33 322.80 262.67 325.50 268.00 328.17 C273.33 330.84 278.67 333.49 284.00 336.11 C289.33 338.73 294.67 341.32 300.00 343.89 C305.33 346.46 310.67 349.00 316.00 351.52 C321.33 354.04 326.67 356.53 332.00 359.01 C337.33 361.48 342.67 363.93 348.00 366.36 C353.33 368.79 358.67 371.20 364.00 373.59 C369.33 375.97 374.67 378.34 380.00 380.69 C385.33 383.03 390.67 385.36 396.00 387.66 C401.33 389.97 406.67 392.26 412.00 394.52 C417.33 396.79 422.67 399.04 428.00 401.27 C433.33 403.50 438.67 405.71 444.00 407.91 C449.33 410.10 454.67 412.27 460.00 414.43 C465.33 416.59 470.67 418.73 476.00 420.86 C481.33 422.98 486.67 425.09 492.00 427.18 C497.33 429.27 502.67 431.34 508.00 433.41 C513.33 435.47 518.67 437.51 524.00 439.54 C529.33 441.57 534.67 443.59 540.00 445.59 C545.33 447.60 550.67 449.59 556.00 451.57 C561.33 453.55 566.67 455.52 572.00 457.48 C577.33 459.44 582.67 461.38 588.00 463.33 C593.33 465.27 598.67 467.20 604.00 469.13 C609.33 471.06 614.67 472.98 620.00 474.90 C625.33 476.82 630.67 478.74 636.00 480.65 C641.33 482.57 646.67 484.49 652.00 486.41 C657.33 488.33 662.67 490.25 668.00 492.18 C673.33 494.11 678.67 496.05 684.00 498.00 C689.33 499.95 694.67 501.91 700.00 503.88 C705.33 505.86 710.67 507.85 716.00 509.87 C721.33 511.88 729.33 514.96 732.00 515.97" fill="none" stroke="#ff0000" stroke-width="2.5"/>
<path d="M-4.00 183.61 C-1.33 186.01 6.67 193.33 12.00 197.97 C17.33 202.62 22.67 207.11 28.00 211.48 C33.33 215.86 38.67 220.09 44.00 224.23 C49.33 228.37 54.67 232.38 60.00 236.31 C65.33 240.24 70.67 244.05 76.00 247.79 C81.33 251.53 86.67 255.17 92.00 258.74 C97.33 262.32 102.67 265.81 108.00 269.24 C113.33 272.66 118.67 276.02 124.00 279.32 C129.33 282.62 134.67 285.85 140.00 289.04 C145.33 292.22 150.67 295.35 156.00 298.44 C161.33 301.53 166.67 304.57 172.00 307.57 C177.33 310.57 182.67 313.52 188.00 316.44 C193.33 319.37 198.67 322.25 204.00 325.10 C209.33 327.96 214.67 330.77 220.00 333.56 C225.33 336.35 230.67 339.11 236.00 341.85 C241.33 344.58 246.67 347.29 252.00 349.97 C257.33 352.65 262.67 355.31 268.00 357.94 C273.33 360.58 278.67 363.19 284.00 365.78 C289.33 368.36 294.67 370.93 300.00 373.48 C305.33 376.02 310.67 378.54 316.00 381.05 C321.33 383.55 326.67 386.03 332.00 388.50 C337.33 390.96 342.67 393.40 348.00 395.82 C353.33 398.24 358.67 400.65 364.00 403.03 C369.33 405.41 374.67 407.77 380.00 410.11 C385.33 412.46 390.67 414.78 396.00 417.08 C401.33 419.38 406.67 421.67 412.00 423.93 C417.33 426.19 422.67 428.44 428.00 430.67 C433.33 432.89 438.67 435.10 444.00 437.29 C449.33 439.48 454.67 441.65 460.00 443.81 C465.33 445.96 470.67 448.10 476.00 450.22 C481.33 452.35 486.67 454.45 492.00 456.55 C497.33 458.64 502.67 460.72 508.00 462.79 C513.33 464.86 518.67 466.92 524.00 468.98 C529.33 471.03 534.67 473.07 540.00 475.11 C545.33 477.15 550.67 479.19 556.00 481.23 C561.33 483.27 566.67 485.30 572.00 487.34 C577.33 489.39 582.67 491.43 588.00 493.50 C593.33 495.56 598.67 497.63 604.00 499.72 C609.33 501.82 614.67 503.92 620.00 506.06 C625.33 508.21 630.67 510.36 636.00 512.57 C641.33 514.77 649.33 518.17 652.00 519.29 L652.00 532.49 C649.33 531.37 641.33 527.97 636.00 525.77 C630.67 523.56 625.33 521.41 620.00 519.26 C614.67 517.12 609.33 515.02 604.00 512.92 C598.67 510.83 593.33 508.76 588.00 506.70 C582.67 504.63 577.33 502.59 572.00 500.54 C566.67 498.50 561.33 496.47 556.00 494.43 C550.67 492.39 545.33 490.35 540.00 488.31 C534.67 486.27 529.33 484.23 524.00 482.18 C518.67 480.12 513.33 478.06 508.00 475.99 C502.67 473.92 497.33 471.84 492.00 469.75 C486.67 467.65 481.33 465.55 476.00 463.42 C470.67 461.30 465.33 459.16 460.00 457.01 C454.67 454.85 449.33 452.68 444.00 450.49 C438.67 448.30 433.33 446.09 428.00 443.87 C422.67 441.64 417.33 439.39 412.00 437.13 C406.67 434.87 401.33 432.58 396.00 430.28 C390.67 427.98 385.33 425.66 380.00 423.31 C374.67 420.97 369.33 418.61 364.00 416.23 C358.67 413.85 353.33 411.44 348.00 409.02 C342.67 406.60 337.33 404.16 332.00 401.70 C326.67 399.23 321.33 396.75 316.00 394.25 C310.67 391.74 305.33 389.22 300.00 386.68 C294.67 384.13 289.33 381.56 284.00 378.98 C278.67 376.39 273.33 373.78 268.00 371.14 C262.67 368.51 257.33 365.85 252.00 363.17 C246.67 360.49 241.33 357.78 236.00 355.05 C230.67 352.31 225.33 349.55 220.00 346.76 C214.67 343.97 209.33 341.16 204.00 338.30 C198.67 335.45 193.33 332.57 188.00 329.64 C182.67 326.72 177.33 323.77 172.00 320.77 C166.67 317.77 161.33 314.73 156.00 311.64 C150.67 308.55 145.33 305.42 140.00 302.24 C134.67 299.05 129.33 295.82 124.00 292.52 C118.67 289.22 113.33 285.86 108.00 282.44 C102.67 279.01 97.33 275.52 92.00 271.94 C86.67 268.37 81.33 264.73 76.00 260.99 C70.67 257.25 65.33 253.44 60.00 249.51 C54.67 245.58 49.33 241.57 44.00 237.43 C38.67 233.29 33.33 229.06 28.00 224.68 C22.67 220.31 17.33 215.82 12.00 211.17 C6.67 206.53 -1.33 199.21 -4.00 196.81Z" fill="#8b0000" fill-opacity="0.3"/>
<path d="M-4.00 190.21 C-1.33 192.61 6.67 199.93 12.00 204.57 C17.33 209.22 22.67 213.71 28.00 218.08 C33.33 222.46 38.67 226.69 44.00 230.83 C49.33 234.97 54.67 238.98 60.00 242.91 C65.33 246.84 70.67 250.65 76.00 254.39 C81.33 258.13 86.67 261.77 92.00 265.34 C97.33 268.92 102.67 272.41 108.00 275.84 C113.33 279.26 118.67 282.62 124.00 285.92 C129.33 289.22 134.67 292.45 140.00 295.64 C145.33 298.82 150.67 301.95 156.00 305.04 C161.33 308.13 166.67 311.17 172.00 314.17 C177.33 317.17 182.67 320.12 188.00 323.04 C193.33 325.97 198.67 328.85 204.00 331.70 C209.33 334.56 214.67 337.37 220.00 340.16 C225.33 342.95 230.67 345.71 236.00 348.45 C241.33 351.18 246.67 353.89 252.00 356.57 C257.33 359.25 262.67 361.91 268.00 364.54 C273.33 367.18 278.67 369.79 284.00 372.38 C289.33 374.96 294.67 377.53 300.00 380.08 C305.33 382.62 310.67 385.14 316.00 387.65 C321.33 390.15 326.67 392.63 332.00 395.10 C337.33 397.56 342.67 400.00 348.00 402.42 C353.33 404.84 358.67 407.25 364.00 409.63 C369.33 412.01 374.67 414.37 380.00 416.71 C385.33 419.06 390.67 421.38 396.00 423.68 C401.33 425.98 406.67 428.27 412.00 430.53 C417.33 432.79 422.67 435.04 428.00 437.27 C433.33 439.49 438.67 441.70 444.00 443.89 C449.33 446.08 454.67 448.25 460.00 450.41 C465.33 452.56 470.67 454.70 476.00 456.82 C481.33 458.95 486.67 461.05 492.00 463.15 C497.33 465.24 502.67 467.32 508.00 469.39 C513.33 471.46 518.67 473.52 524.00 475.58 C529.33 477.63 534.67 479.67 540.00 481.71 C545.33 483.75 550.67 485.79 556.00 487.83 C561.33 489.87 566.67 491.90 572.00 493.94 C577.33 495.99 582.67 498.03 588.00 500.10 C593.33 502.16 598.67 504.23 604.00 506.32 C609.33 508.42 614.67 510.52 620.00 512.66 C625.33 514.81 630.67 516.96 636.00 519.17 C641.33 521.37 649.33 524.77 652.00 525.89" fill="none" stroke="#8b0000" stroke-width="2.5"/>
<path d="M-2.00 388.27 C4.06 389.67 22.02 394.36 34.33 396.66 C46.64 398.96 59.13 400.95 71.87 402.05 C84.62 403.15 97.83 402.32 110.81 403.25 C123.79 404.18 137.10 407.08 149.75 407.64 C162.39 408.21 174.04 406.14 186.69 406.64 C199.33 407.14 212.91 409.71 225.63 410.64 C238.34 411.57 250.32 411.74 262.97 412.24 C275.61 412.74 288.76 413.33 301.50 413.63 C314.25 413.93 331.03 413.97 339.44 414.03 C347.86 414.10 339.36 413.77 352.00 414.03 C364.64 414.30 398.43 415.53 415.30 415.63 C432.17 415.73 440.59 415.13 453.24 414.63 C465.88 414.13 478.53 411.87 491.18 412.64 C503.82 413.40 516.47 417.99 529.12 419.23 C541.76 420.46 548.05 419.62 567.06 420.02 C586.06 420.42 617.39 421.59 643.13 421.62 C668.87 421.66 708.44 420.46 721.50 420.22" fill="none" stroke="#000" stroke-width="2.4" stroke-dasharray="5 4.8"/>
<path d="M-2.00 371.70 C0.33 373.36 7.64 378.52 11.97 381.68 C16.29 384.84 20.22 388.17 23.95 390.67 C27.68 393.16 29.67 394.50 34.33 396.66 C38.99 398.82 45.65 401.88 51.90 403.65 C58.16 405.41 62.05 406.58 71.87 407.24 C81.69 407.91 97.83 407.08 110.81 407.64 C123.79 408.21 137.10 410.54 149.75 410.64 C162.39 410.74 177.20 407.84 186.69 408.24 C196.17 408.64 200.17 411.57 206.66 413.03 C213.15 414.50 220.97 416.26 225.63 417.03 C230.29 417.79 230.29 417.76 234.61 417.63 C238.94 417.49 243.76 417.13 251.58 416.23 C259.41 415.33 271.55 413.33 281.54 412.24 C291.52 411.14 301.84 410.51 311.49 409.64 C321.14 408.77 332.69 407.54 339.44 407.04 C346.20 406.54 345.58 406.94 352.00 406.64 C358.42 406.34 367.41 404.91 377.96 405.25 C388.51 405.58 404.65 407.91 415.30 408.64 C425.95 409.37 432.44 409.64 441.86 409.64 C451.27 409.64 463.59 408.54 471.81 408.64 C480.03 408.74 484.52 409.07 491.18 410.24 C497.83 411.40 505.42 414.13 511.74 415.63 C518.07 417.13 522.46 418.49 529.12 419.23 C535.77 419.96 545.36 419.86 551.68 420.02 C558.00 420.19 560.40 419.86 567.06 420.22 C573.71 420.59 584.20 421.56 591.62 422.22 C599.04 422.89 603.00 423.89 611.58 424.22 C620.17 424.55 631.49 424.22 643.13 424.22 C654.78 424.22 671.76 424.28 681.47 424.22 C691.19 424.15 694.77 424.08 701.44 423.82 C708.11 423.55 718.16 422.82 721.50 422.62" fill="none" stroke="#000" stroke-width="2.4"/>
</g>
<path d="M0 486.53H10.8 M719.30 486.53H708.50 M0 468.30H10.8 M719.30 468.30H708.50 M0 455.36H10.8 M719.30 455.36H708.50 M0 445.33H10.8 M719.30 445.33H708.50 M0 437.13H10.8 M719.30 437.13H708.50 M0 430.20H10.8 M719.30 430.20H708.50 M0 424.19H10.8 M719.30 424.19H708.50 M0 418.90H10.8 M719.30 418.90H708.50 M0 414.16H21.5 M719.30 414.16H697.80 M0 382.99H10.8 M719.30 382.99H708.50 M0 364.76H10.8 M719.30 364.76H708.50 M0 351.82H10.8 M719.30 351.82H708.50 M0 341.79H10.8 M719.30 341.79H708.50 M0 333.59H10.8 M719.30 333.59H708.50 M0 326.66H10.8 M719.30 326.66H708.50 M0 320.65H10.8 M719.30 320.65H708.50 M0 315.36H10.8 M719.30 315.36H708.50 M0 310.62H21.5 M719.30 310.62H697.80 M0 279.45H10.8 M719.30 279.45H708.50 M0 261.22H10.8 M719.30 261.22H708.50 M0 248.28H10.8 M719.30 248.28H708.50 M0 238.25H10.8 M719.30 238.25H708.50 M0 230.05H10.8 M719.30 230.05H708.50 M0 223.12H10.8 M719.30 223.12H708.50 M0 217.11H10.8 M719.30 217.11H708.50 M0 211.82H10.8 M719.30 211.82H708.50 M0 207.08H21.5 M719.30 207.08H697.80 M0 175.91H10.8 M719.30 175.91H708.50 M0 157.68H10.8 M719.30 157.68H708.50 M0 144.74H10.8 M719.30 144.74H708.50 M0 134.71H10.8 M719.30 134.71H708.50 M0 126.51H10.8 M719.30 126.51H708.50 M0 119.58H10.8 M719.30 119.58H708.50 M0 113.57H10.8 M719.30 113.57H708.50 M0 108.28H10.8 M719.30 108.28H708.50 M0 103.54H21.5 M719.30 103.54H697.80 M0 72.37H10.8 M719.30 72.37H708.50 M0 54.14H10.8 M719.30 54.14H708.50 M0 41.20H10.8 M719.30 41.20H708.50 M0 31.17H10.8 M719.30 31.17H708.50 M0 22.97H10.8 M719.30 22.97H708.50 M0 16.04H10.8 M719.30 16.04H708.50 M0 10.03H10.8 M719.30 10.03H708.50 M0 4.74H10.8 M719.30 4.74H708.50 M4.15 517.70V509.40 M4.15 0V8.30 M19.36 517.70V509.40 M19.36 0V8.30 M34.58 517.70V501.70 M34.58 0V16.00 M49.80 517.70V509.40 M49.80 0V8.30 M65.01 517.70V509.40 M65.01 0V8.30 M80.23 517.70V509.40 M80.23 0V8.30 M95.44 517.70V509.40 M95.44 0V8.30 M110.66 517.70V501.70 M110.66 0V16.00 M125.88 517.70V509.40 M125.88 0V8.30 M141.09 517.70V509.40 M141.09 0V8.30 M156.31 517.70V509.40 M156.31 0V8.30 M171.52 517.70V509.40 M171.52 0V8.30 M186.74 517.70V501.70 M186.74 0V16.00 M201.96 517.70V509.40 M201.96 0V8.30 M217.17 517.70V509.40 M217.17 0V8.30 M232.39 517.70V509.40 M232.39 0V8.30 M247.60 517.70V509.40 M247.60 0V8.30 M262.82 517.70V501.70 M262.82 0V16.00 M278.04 517.70V509.40 M278.04 0V8.30 M293.25 517.70V509.40 M293.25 0V8.30 M308.47 517.70V509.40 M308.47 0V8.30 M323.68 517.70V509.40 M323.68 0V8.30 M338.90 517.70V501.70 M338.90 0V16.00 M354.12 517.70V509.40 M354.12 0V8.30 M369.33 517.70V509.40 M369.33 0V8.30 M384.55 517.70V509.40 M384.55 0V8.30 M399.76 517.70V509.40 M399.76 0V8.30 M414.98 517.70V501.70 M414.98 0V16.00 M430.20 517.70V509.40 M430.20 0V8.30 M445.41 517.70V509.40 M445.41 0V8.30 M460.63 517.70V509.40 M460.63 0V8.30 M475.84 517.70V509.40 M475.84 0V8.30 M491.06 517.70V501.70 M491.06 0V16.00 M506.28 517.70V509.40 M506.28 0V8.30 M521.49 517.70V509.40 M521.49 0V8.30 M536.71 517.70V509.40 M536.71 0V8.30 M551.92 517.70V509.40 M551.92 0V8.30 M567.14 517.70V501.70 M567.14 0V16.00 M582.36 517.70V509.40 M582.36 0V8.30 M597.57 517.70V509.40 M597.57 0V8.30 M612.79 517.70V509.40 M612.79 0V8.30 M628.00 517.70V509.40 M628.00 0V8.30 M643.22 517.70V501.70 M643.22 0V16.00 M658.44 517.70V509.40 M658.44 0V8.30 M673.65 517.70V509.40 M673.65 0V8.30 M688.87 517.70V509.40 M688.87 0V8.30 M704.08 517.70V509.40 M704.08 0V8.30" stroke="#000" stroke-width="1.5" fill="none"/>
<rect x="0" y="0" width="719.30" height="517.70" fill="none" stroke="#000" stroke-width="1.8"/>
</g>
<g font-family="'Liberation Sans', sans-serif" font-size="30" fill="#000"><text x="1127.28" y="574.00" text-anchor="middle">300</text><text x="1203.36" y="574.00" text-anchor="middle">400</text><text x="1279.44" y="574.00" text-anchor="middle">500</text><text x="1355.52" y="574.00" text-anchor="middle">600</text><text x="1431.60" y="574.00" text-anchor="middle">700</text><text x="1507.68" y="574.00" text-anchor="middle">800</text><text x="1583.76" y="574.00" text-anchor="middle">900</text><text x="1659.84" y="574.00" text-anchor="middle">1000</text><text x="1735.92" y="574.00" text-anchor="middle">1100</text><text x="1812.00" y="574.00" text-anchor="middle">1200</text><text x="1084.80" y="41.80" text-anchor="end">10<tspan dy="-15.6" font-size="18.5">3</tspan></text><text x="1084.80" y="145.34" text-anchor="end">10<tspan dy="-15.6" font-size="18.5">2</tspan></text><text x="1085.90" y="246.48" text-anchor="end">10</text><text x="1085.90" y="350.02" text-anchor="end">1</text><text x="1084.80" y="455.96" text-anchor="end">10<tspan dy="-15.6" font-size="18.5">−1</tspan></text><text x="1084.80" y="559.50" text-anchor="end">10<tspan dy="-15.6" font-size="18.5">−2</tspan></text></g>
<text x="941.90" y="31.20" font-family="'Liberation Sans', sans-serif" font-size="34.5" font-weight="bold">B</text>
<text x="1814.00" y="628.70" font-family="'Liberation Sans', sans-serif" font-size="30.4" text-anchor="end">m(H<tspan dy="-14" font-size="21">±±</tspan><tspan dy="14">) [GeV]</tspan></text>
<g transform="translate(999.40 264.00) rotate(-90)" font-family="'Liberation Sans', sans-serif" font-size="30" fill="#000">
<text x="-0.3" y="0">σ(pp</text>
<text x="62.6" y="3.3" font-family="'DejaVu Sans', sans-serif" font-size="37.4" font-weight="200">→</text>
<text x="100.4" y="0">H</text>
<text x="121.4" y="-15" font-size="19.5">++</text>
<text x="144.4" y="0">H</text>
<text x="164.7" y="-17.8" font-size="20.5">--</text>
<text x="179.4" y="0">)</text>
<text x="194.9" y="0">[fb]</text>
</g>
<text x="1116.10" y="76.20" font-family="'Liberation Sans', sans-serif" font-size="31" font-weight="bold" font-style="italic">ATLAS</text>
<text transform="translate(1118.80 111.50) scale(0.70 1)" font-family="'Liberation Sans', sans-serif" font-size="34.2" style="stroke-width:0">√</text>
<path d="M1131.40 85.10h15.2" fill="none" stroke="#000" stroke-width="1.6"/>
<text x="1131.60" y="110.00" font-family="'Liberation Sans', sans-serif" font-size="30.6">s = 13 TeV, 36.1 fb<tspan dy="-13" font-size="19.5">-1</tspan></text>
<text x="1180.40" y="148.00" font-family="'Liberation Sans', sans-serif" font-size="30.2"><tspan font-style="italic">B</tspan>(<tspan>e</tspan><tspan dy="-12.6" font-size="21">±</tspan><tspan dy="12.6">e</tspan><tspan dy="-12.6" font-size="21">±</tspan><tspan dy="12.6">)=0%</tspan></text>
<text x="1180.40" y="186.20" font-family="'Liberation Sans', sans-serif" font-size="30.2"><tspan font-style="italic">B</tspan>(<tspan>e</tspan><tspan dy="-12.6" font-size="21">±</tspan><tspan dy="12.6" font-family="'Liberation Serif', serif" font-size="33">μ</tspan><tspan dy="-12.6" font-size="21">±</tspan><tspan dy="12.6">)=0%</tspan></text>
<text x="1180.40" y="226.10" font-family="'Liberation Sans', sans-serif" font-size="30.2"><tspan font-style="italic">B</tspan>(<tspan font-family="'Liberation Serif', serif" font-size="33">μ</tspan><tspan dy="-12.6" font-size="21">±</tspan><tspan dy="12.6" font-family="'Liberation Serif', serif" font-size="33">μ</tspan><tspan dy="-12.6" font-size="21">±</tspan><tspan dy="12.6">)=100%</tspan></text>
<g font-family="'Liberation Sans', sans-serif" font-size="27.5" fill="#000">
<path d="M1416.60 76.50H1483.10" stroke="#000" stroke-width="1.6"/>
<text x="1496.10" y="83.40">Observed 95% CL limit</text>
<path d="M1416.60 115.00H1483.10" stroke="#000" stroke-width="1.5" stroke-dasharray="3.4 2.8"/>
<text x="1496.10" y="122.60">Expected 95% CL limit</text>
<rect x="1417.20" y="140.70" width="65.30" height="26.6" fill="#59d354" stroke="#000" stroke-width="1.2"/>
<text x="1496.10" y="161.70">Expected limit ± 1σ</text>
<rect x="1417.20" y="178.90" width="65.30" height="27.3" fill="#ffff00" stroke="#000" stroke-width="1.2"/>
<text x="1496.10" y="200.30">Expected limit ± 2σ</text>
<rect x="1416.60" y="218.30" width="66.50" height="26.3" fill="#ffb2b2"/>
<path d="M1416.60 231.40H1483.10" stroke="#ff0000" stroke-width="2.2"/>
<rect x="1416.60" y="257.10" width="66.50" height="26.5" fill="#dcb3b3"/>
<path d="M1416.60 270.30H1483.10" stroke="#8b0000" stroke-width="2.2"/>
<text x="1496.10" y="240.10">σ(pp</text>
<text x="1552.00" y="243.20" font-family="'DejaVu Sans', sans-serif" font-size="33" font-weight="200">→</text>
<text x="1587.10" y="240.10">H</text>
<text x="1606.70" y="226.10" font-size="18">++</text>
<text x="1626.40" y="240.10">H</text>
<text x="1644.50" y="224.70" font-size="20">--</text>
<text x="1658.10" y="240.10">)</text>
<text x="1606.30" y="254.30" font-size="16.4">L</text>
<text x="1644.80" y="247.50" font-size="16.4">L</text>
<text x="1496.10" y="279.00">σ(pp</text>
<text x="1552.00" y="282.10" font-family="'DejaVu Sans', sans-serif" font-size="33" font-weight="200">→</text>
<text x="1587.10" y="279.00">H</text>
<text x="1606.70" y="265.00" font-size="18">++</text>
<text x="1626.40" y="279.00">H</text>
<text x="1644.50" y="263.60" font-size="20">--</text>
<text x="1658.10" y="279.00">)</text>
<text x="1606.30" y="293.20" font-size="16.4">R</text>
<text x="1644.80" y="286.40" font-size="16.4">R</text>
</g>
<g transform="translate(158.00 713.20) scale(1 0.99730)">
<clipPath id="clipC"><rect x="0" y="0" width="719.30" height="517.70"/></clipPath>
<g clip-path="url(#clipC)">
<path d="M-2.00 334.26 L34.33 341.47 L71.87 348.07 L110.81 349.28 L149.75 352.68 L186.69 351.68 L225.63 352.68 L262.97 355.28 L301.50 357.69 L339.44 359.69 L352.00 359.29 L415.30 357.69 L491.18 355.28 L567.06 353.68 L643.13 351.28 L721.50 349.28 L721.50 459.41 L643.13 460.21 L567.06 460.81 L491.18 461.81 L415.30 463.41 L352.00 462.81 L339.44 462.81 L301.50 460.81 L262.97 458.81 L225.63 456.21 L186.69 453.40 L149.75 454.80 L110.81 450.80 L71.87 448.20 L34.33 442.19 L-2.00 423.77Z" fill="#ffff00"/>
<path d="M-2.00 356.69 L34.33 366.10 L71.87 372.10 L110.81 373.71 L149.75 376.71 L186.69 376.11 L225.63 377.71 L262.97 379.71 L301.50 382.72 L339.44 384.72 L352.00 384.72 L415.30 383.32 L491.18 381.72 L567.06 380.11 L643.13 378.11 L721.50 376.11 L721.50 433.78 L643.13 434.78 L567.06 435.78 L491.18 436.78 L415.30 438.18 L352.00 438.18 L339.44 438.78 L301.50 436.78 L262.97 433.78 L225.63 431.78 L186.69 429.37 L149.75 430.77 L110.81 426.77 L71.87 424.37 L34.33 418.76 L-2.00 404.74Z" fill="#59d354"/>
<path d="M-4.00 144.25 C-1.33 146.58 6.67 153.70 12.00 158.26 C17.33 162.82 22.67 167.26 28.00 171.61 C33.33 175.95 38.67 180.19 44.00 184.34 C49.33 188.50 54.67 192.55 60.00 196.52 C65.33 200.50 70.67 204.38 76.00 208.19 C81.33 212.00 86.67 215.73 92.00 219.39 C97.33 223.06 102.67 226.65 108.00 230.17 C113.33 233.70 118.67 237.16 124.00 240.57 C129.33 243.97 134.67 247.31 140.00 250.61 C145.33 253.90 150.67 257.14 156.00 260.33 C161.33 263.52 166.67 266.66 172.00 269.75 C177.33 272.85 182.67 275.90 188.00 278.91 C193.33 281.92 198.67 284.89 204.00 287.82 C209.33 290.75 214.67 293.65 220.00 296.51 C225.33 299.37 230.67 302.19 236.00 304.98 C241.33 307.78 246.67 310.54 252.00 313.27 C257.33 316.00 262.67 318.70 268.00 321.37 C273.33 324.04 278.67 326.69 284.00 329.31 C289.33 331.93 294.67 334.52 300.00 337.09 C305.33 339.66 310.67 342.20 316.00 344.72 C321.33 347.24 326.67 349.73 332.00 352.21 C337.33 354.68 342.67 357.13 348.00 359.56 C353.33 361.99 358.67 364.40 364.00 366.79 C369.33 369.17 374.67 371.54 380.00 373.89 C385.33 376.23 390.67 378.56 396.00 380.86 C401.33 383.17 406.67 385.46 412.00 387.72 C417.33 389.99 422.67 392.24 428.00 394.47 C433.33 396.70 438.67 398.91 444.00 401.11 C449.33 403.30 454.67 405.47 460.00 407.63 C465.33 409.79 470.67 411.93 476.00 414.06 C481.33 416.18 486.67 418.29 492.00 420.38 C497.33 422.47 502.67 424.54 508.00 426.61 C513.33 428.67 518.67 430.71 524.00 432.74 C529.33 434.77 534.67 436.79 540.00 438.79 C545.33 440.80 550.67 442.79 556.00 444.77 C561.33 446.75 566.67 448.72 572.00 450.68 C577.33 452.64 582.67 454.58 588.00 456.53 C593.33 458.47 598.67 460.40 604.00 462.33 C609.33 464.26 614.67 466.18 620.00 468.10 C625.33 470.02 630.67 471.94 636.00 473.85 C641.33 475.77 646.67 477.69 652.00 479.61 C657.33 481.53 662.67 483.45 668.00 485.38 C673.33 487.31 678.67 489.25 684.00 491.20 C689.33 493.15 694.67 495.11 700.00 497.08 C705.33 499.06 710.67 501.05 716.00 503.07 C721.33 505.08 729.33 508.16 732.00 509.17 L732.00 522.77 C729.33 521.76 721.33 518.68 716.00 516.67 C710.67 514.65 705.33 512.66 700.00 510.68 C694.67 508.71 689.33 506.75 684.00 504.80 C678.67 502.85 673.33 500.91 668.00 498.98 C662.67 497.05 657.33 495.13 652.00 493.21 C646.67 491.29 641.33 489.37 636.00 487.45 C630.67 485.54 625.33 483.62 620.00 481.70 C614.67 479.78 609.33 477.86 604.00 475.93 C598.67 474.00 593.33 472.07 588.00 470.13 C582.67 468.18 577.33 466.24 572.00 464.28 C566.67 462.32 561.33 460.35 556.00 458.37 C550.67 456.39 545.33 454.40 540.00 452.39 C534.67 450.39 529.33 448.37 524.00 446.34 C518.67 444.31 513.33 442.27 508.00 440.21 C502.67 438.14 497.33 436.07 492.00 433.98 C486.67 431.89 481.33 429.78 476.00 427.66 C470.67 425.53 465.33 423.39 460.00 421.23 C454.67 419.07 449.33 416.90 444.00 414.71 C438.67 412.51 433.33 410.30 428.00 408.07 C422.67 405.84 417.33 403.59 412.00 401.32 C406.67 399.06 401.33 396.77 396.00 394.46 C390.67 392.16 385.33 389.83 380.00 387.49 C374.67 385.14 369.33 382.77 364.00 380.39 C358.67 378.00 353.33 375.59 348.00 373.16 C342.67 370.73 337.33 368.28 332.00 365.81 C326.67 363.33 321.33 360.84 316.00 358.32 C310.67 355.80 305.33 353.26 300.00 350.69 C294.67 348.12 289.33 345.53 284.00 342.91 C278.67 340.29 273.33 337.64 268.00 334.97 C262.67 332.30 257.33 329.60 252.00 326.87 C246.67 324.14 241.33 321.38 236.00 318.58 C230.67 315.79 225.33 312.97 220.00 310.11 C214.67 307.25 209.33 304.35 204.00 301.42 C198.67 298.49 193.33 295.52 188.00 292.51 C182.67 289.50 177.33 286.45 172.00 283.35 C166.67 280.26 161.33 277.12 156.00 273.93 C150.67 270.74 145.33 267.50 140.00 264.21 C134.67 260.91 129.33 257.57 124.00 254.17 C118.67 250.76 113.33 247.30 108.00 243.77 C102.67 240.25 97.33 236.66 92.00 232.99 C86.67 229.33 81.33 225.60 76.00 221.79 C70.67 217.98 65.33 214.10 60.00 210.12 C54.67 206.15 49.33 202.10 44.00 197.94 C38.67 193.79 33.33 189.55 28.00 185.21 C22.67 180.86 17.33 176.42 12.00 171.86 C6.67 167.30 -1.33 160.18 -4.00 157.85Z" fill="#ff0000" fill-opacity="0.3"/>
<path d="M-4.00 151.05 C-1.33 153.38 6.67 160.50 12.00 165.06 C17.33 169.62 22.67 174.06 28.00 178.41 C33.33 182.75 38.67 186.99 44.00 191.14 C49.33 195.30 54.67 199.35 60.00 203.32 C65.33 207.30 70.67 211.18 76.00 214.99 C81.33 218.80 86.67 222.53 92.00 226.19 C97.33 229.86 102.67 233.45 108.00 236.97 C113.33 240.50 118.67 243.96 124.00 247.37 C129.33 250.77 134.67 254.11 140.00 257.41 C145.33 260.70 150.67 263.94 156.00 267.13 C161.33 270.32 166.67 273.46 172.00 276.55 C177.33 279.65 182.67 282.70 188.00 285.71 C193.33 288.72 198.67 291.69 204.00 294.62 C209.33 297.55 214.67 300.45 220.00 303.31 C225.33 306.17 230.67 308.99 236.00 311.78 C241.33 314.58 246.67 317.34 252.00 320.07 C257.33 322.80 262.67 325.50 268.00 328.17 C273.33 330.84 278.67 333.49 284.00 336.11 C289.33 338.73 294.67 341.32 300.00 343.89 C305.33 346.46 310.67 349.00 316.00 351.52 C321.33 354.04 326.67 356.53 332.00 359.01 C337.33 361.48 342.67 363.93 348.00 366.36 C353.33 368.79 358.67 371.20 364.00 373.59 C369.33 375.97 374.67 378.34 380.00 380.69 C385.33 383.03 390.67 385.36 396.00 387.66 C401.33 389.97 406.67 392.26 412.00 394.52 C417.33 396.79 422.67 399.04 428.00 401.27 C433.33 403.50 438.67 405.71 444.00 407.91 C449.33 410.10 454.67 412.27 460.00 414.43 C465.33 416.59 470.67 418.73 476.00 420.86 C481.33 422.98 486.67 425.09 492.00 427.18 C497.33 429.27 502.67 431.34 508.00 433.41 C513.33 435.47 518.67 437.51 524.00 439.54 C529.33 441.57 534.67 443.59 540.00 445.59 C545.33 447.60 550.67 449.59 556.00 451.57 C561.33 453.55 566.67 455.52 572.00 457.48 C577.33 459.44 582.67 461.38 588.00 463.33 C593.33 465.27 598.67 467.20 604.00 469.13 C609.33 471.06 614.67 472.98 620.00 474.90 C625.33 476.82 630.67 478.74 636.00 480.65 C641.33 482.57 646.67 484.49 652.00 486.41 C657.33 488.33 662.67 490.25 668.00 492.18 C673.33 494.11 678.67 496.05 684.00 498.00 C689.33 499.95 694.67 501.91 700.00 503.88 C705.33 505.86 710.67 507.85 716.00 509.87 C721.33 511.88 729.33 514.96 732.00 515.97" fill="none" stroke="#ff0000" stroke-width="2.5"/>
<path d="M-4.00 183.61 C-1.33 186.01 6.67 193.33 12.00 197.97 C17.33 202.62 22.67 207.11 28.00 211.48 C33.33 215.86 38.67 220.09 44.00 224.23 C49.33 228.37 54.67 232.38 60.00 236.31 C65.33 240.24 70.67 244.05 76.00 247.79 C81.33 251.53 86.67 255.17 92.00 258.74 C97.33 262.32 102.67 265.81 108.00 269.24 C113.33 272.66 118.67 276.02 124.00 279.32 C129.33 282.62 134.67 285.85 140.00 289.04 C145.33 292.22 150.67 295.35 156.00 298.44 C161.33 301.53 166.67 304.57 172.00 307.57 C177.33 310.57 182.67 313.52 188.00 316.44 C193.33 319.37 198.67 322.25 204.00 325.10 C209.33 327.96 214.67 330.77 220.00 333.56 C225.33 336.35 230.67 339.11 236.00 341.85 C241.33 344.58 246.67 347.29 252.00 349.97 C257.33 352.65 262.67 355.31 268.00 357.94 C273.33 360.58 278.67 363.19 284.00 365.78 C289.33 368.36 294.67 370.93 300.00 373.48 C305.33 376.02 310.67 378.54 316.00 381.05 C321.33 383.55 326.67 386.03 332.00 388.50 C337.33 390.96 342.67 393.40 348.00 395.82 C353.33 398.24 358.67 400.65 364.00 403.03 C369.33 405.41 374.67 407.77 380.00 410.11 C385.33 412.46 390.67 414.78 396.00 417.08 C401.33 419.38 406.67 421.67 412.00 423.93 C417.33 426.19 422.67 428.44 428.00 430.67 C433.33 432.89 438.67 435.10 444.00 437.29 C449.33 439.48 454.67 441.65 460.00 443.81 C465.33 445.96 470.67 448.10 476.00 450.22 C481.33 452.35 486.67 454.45 492.00 456.55 C497.33 458.64 502.67 460.72 508.00 462.79 C513.33 464.86 518.67 466.92 524.00 468.98 C529.33 471.03 534.67 473.07 540.00 475.11 C545.33 477.15 550.67 479.19 556.00 481.23 C561.33 483.27 566.67 485.30 572.00 487.34 C577.33 489.39 582.67 491.43 588.00 493.50 C593.33 495.56 598.67 497.63 604.00 499.72 C609.33 501.82 614.67 503.92 620.00 506.06 C625.33 508.21 630.67 510.36 636.00 512.57 C641.33 514.77 649.33 518.17 652.00 519.29 L652.00 532.49 C649.33 531.37 641.33 527.97 636.00 525.77 C630.67 523.56 625.33 521.41 620.00 519.26 C614.67 517.12 609.33 515.02 604.00 512.92 C598.67 510.83 593.33 508.76 588.00 506.70 C582.67 504.63 577.33 502.59 572.00 500.54 C566.67 498.50 561.33 496.47 556.00 494.43 C550.67 492.39 545.33 490.35 540.00 488.31 C534.67 486.27 529.33 484.23 524.00 482.18 C518.67 480.12 513.33 478.06 508.00 475.99 C502.67 473.92 497.33 471.84 492.00 469.75 C486.67 467.65 481.33 465.55 476.00 463.42 C470.67 461.30 465.33 459.16 460.00 457.01 C454.67 454.85 449.33 452.68 444.00 450.49 C438.67 448.30 433.33 446.09 428.00 443.87 C422.67 441.64 417.33 439.39 412.00 437.13 C406.67 434.87 401.33 432.58 396.00 430.28 C390.67 427.98 385.33 425.66 380.00 423.31 C374.67 420.97 369.33 418.61 364.00 416.23 C358.67 413.85 353.33 411.44 348.00 409.02 C342.67 406.60 337.33 404.16 332.00 401.70 C326.67 399.23 321.33 396.75 316.00 394.25 C310.67 391.74 305.33 389.22 300.00 386.68 C294.67 384.13 289.33 381.56 284.00 378.98 C278.67 376.39 273.33 373.78 268.00 371.14 C262.67 368.51 257.33 365.85 252.00 363.17 C246.67 360.49 241.33 357.78 236.00 355.05 C230.67 352.31 225.33 349.55 220.00 346.76 C214.67 343.97 209.33 341.16 204.00 338.30 C198.67 335.45 193.33 332.57 188.00 329.64 C182.67 326.72 177.33 323.77 172.00 320.77 C166.67 317.77 161.33 314.73 156.00 311.64 C150.67 308.55 145.33 305.42 140.00 302.24 C134.67 299.05 129.33 295.82 124.00 292.52 C118.67 289.22 113.33 285.86 108.00 282.44 C102.67 279.01 97.33 275.52 92.00 271.94 C86.67 268.37 81.33 264.73 76.00 260.99 C70.67 257.25 65.33 253.44 60.00 249.51 C54.67 245.58 49.33 241.57 44.00 237.43 C38.67 233.29 33.33 229.06 28.00 224.68 C22.67 220.31 17.33 215.82 12.00 211.17 C6.67 206.53 -1.33 199.21 -4.00 196.81Z" fill="#8b0000" fill-opacity="0.3"/>
<path d="M-4.00 190.21 C-1.33 192.61 6.67 199.93 12.00 204.57 C17.33 209.22 22.67 213.71 28.00 218.08 C33.33 222.46 38.67 226.69 44.00 230.83 C49.33 234.97 54.67 238.98 60.00 242.91 C65.33 246.84 70.67 250.65 76.00 254.39 C81.33 258.13 86.67 261.77 92.00 265.34 C97.33 268.92 102.67 272.41 108.00 275.84 C113.33 279.26 118.67 282.62 124.00 285.92 C129.33 289.22 134.67 292.45 140.00 295.64 C145.33 298.82 150.67 301.95 156.00 305.04 C161.33 308.13 166.67 311.17 172.00 314.17 C177.33 317.17 182.67 320.12 188.00 323.04 C193.33 325.97 198.67 328.85 204.00 331.70 C209.33 334.56 214.67 337.37 220.00 340.16 C225.33 342.95 230.67 345.71 236.00 348.45 C241.33 351.18 246.67 353.89 252.00 356.57 C257.33 359.25 262.67 361.91 268.00 364.54 C273.33 367.18 278.67 369.79 284.00 372.38 C289.33 374.96 294.67 377.53 300.00 380.08 C305.33 382.62 310.67 385.14 316.00 387.65 C321.33 390.15 326.67 392.63 332.00 395.10 C337.33 397.56 342.67 400.00 348.00 402.42 C353.33 404.84 358.67 407.25 364.00 409.63 C369.33 412.01 374.67 414.37 380.00 416.71 C385.33 419.06 390.67 421.38 396.00 423.68 C401.33 425.98 406.67 428.27 412.00 430.53 C417.33 432.79 422.67 435.04 428.00 437.27 C433.33 439.49 438.67 441.70 444.00 443.89 C449.33 446.08 454.67 448.25 460.00 450.41 C465.33 452.56 470.67 454.70 476.00 456.82 C481.33 458.95 486.67 461.05 492.00 463.15 C497.33 465.24 502.67 467.32 508.00 469.39 C513.33 471.46 518.67 473.52 524.00 475.58 C529.33 477.63 534.67 479.67 540.00 481.71 C545.33 483.75 550.67 485.79 556.00 487.83 C561.33 489.87 566.67 491.90 572.00 493.94 C577.33 495.99 582.67 498.03 588.00 500.10 C593.33 502.16 598.67 504.23 604.00 506.32 C609.33 508.42 614.67 510.52 620.00 512.66 C625.33 514.81 630.67 516.96 636.00 519.17 C641.33 521.37 649.33 524.77 652.00 525.89" fill="none" stroke="#8b0000" stroke-width="2.5"/>
<path d="M-2.00 382.72 C4.06 384.39 22.02 390.23 34.33 392.73 C46.64 395.23 59.13 396.50 71.87 397.73 C84.62 398.97 97.83 399.20 110.81 400.14 C123.79 401.07 137.10 402.97 149.75 403.34 C162.39 403.71 174.04 402.17 186.69 402.34 C199.33 402.51 212.91 403.61 225.63 404.34 C238.34 405.08 250.32 405.91 262.97 406.75 C275.61 407.58 288.76 408.51 301.50 409.35 C314.25 410.18 331.03 411.28 339.44 411.75 C347.86 412.22 339.36 412.15 352.00 412.15 C364.64 412.15 392.10 412.15 415.30 411.75 C438.49 411.35 465.88 410.35 491.18 409.75 C516.47 409.15 541.73 408.65 567.06 408.15 C592.38 407.65 617.39 407.21 643.13 406.75 C668.87 406.28 708.44 405.58 721.50 405.34" fill="none" stroke="#000" stroke-width="2.4" stroke-dasharray="5 4.8"/>
<path d="M-2.00 370.90 C0.33 372.70 7.64 378.18 11.97 381.72 C16.29 385.25 20.22 389.19 23.95 392.13 C27.68 395.06 29.67 396.90 34.33 399.34 C38.99 401.77 45.65 404.84 51.90 406.75 C58.16 408.65 65.22 409.92 71.87 410.75 C78.53 411.58 85.35 411.58 91.84 411.75 C98.33 411.92 101.16 411.75 110.81 411.75 C120.46 411.75 139.60 411.92 149.75 411.75 C159.90 411.58 165.56 411.15 171.71 410.75 C177.87 410.35 180.86 410.02 186.69 409.35 C192.51 408.68 200.17 407.51 206.66 406.75 C213.15 405.98 219.80 405.14 225.63 404.74 C231.45 404.34 235.38 404.01 241.60 404.34 C247.82 404.68 256.31 405.34 262.97 406.75 C269.62 408.15 275.11 410.85 281.54 412.75 C287.96 414.66 294.85 416.99 301.50 418.16 C308.16 419.33 315.15 419.49 321.47 419.76 C327.80 420.03 334.36 419.76 339.44 419.76 C344.53 419.76 344.92 419.69 352.00 419.76 C359.08 419.83 371.40 420.16 381.95 420.16 C392.50 420.16 400.32 420.00 415.30 419.76 C430.27 419.53 459.16 419.03 471.81 418.76 C484.45 418.49 481.19 418.49 491.18 418.16 C501.16 417.83 519.07 417.23 531.71 416.76 C544.36 416.29 553.74 415.79 567.06 415.36 C580.37 414.92 598.90 414.42 611.58 414.15 C624.26 413.89 629.82 413.92 643.13 413.75 C656.45 413.59 678.40 413.32 691.46 413.15 C704.52 412.99 716.49 412.82 721.50 412.75" fill="none" stroke="#000" stroke-width="2.4"/>
</g>
<path d="M0 486.53H10.8 M719.30 486.53H708.50 M0 468.30H10.8 M719.30 468.30H708.50 M0 455.36H10.8 M719.30 455.36H708.50 M0 445.33H10.8 M719.30 445.33H708.50 M0 437.13H10.8 M719.30 437.13H708.50 M0 430.20H10.8 M719.30 430.20H708.50 M0 424.19H10.8 M719.30 424.19H708.50 M0 418.90H10.8 M719.30 418.90H708.50 M0 414.16H21.5 M719.30 414.16H697.80 M0 382.99H10.8 M719.30 382.99H708.50 M0 364.76H10.8 M719.30 364.76H708.50 M0 351.82H10.8 M719.30 351.82H708.50 M0 341.79H10.8 M719.30 341.79H708.50 M0 333.59H10.8 M719.30 333.59H708.50 M0 326.66H10.8 M719.30 326.66H708.50 M0 320.65H10.8 M719.30 320.65H708.50 M0 315.36H10.8 M719.30 315.36H708.50 M0 310.62H21.5 M719.30 310.62H697.80 M0 279.45H10.8 M719.30 279.45H708.50 M0 261.22H10.8 M719.30 261.22H708.50 M0 248.28H10.8 M719.30 248.28H708.50 M0 238.25H10.8 M719.30 238.25H708.50 M0 230.05H10.8 M719.30 230.05H708.50 M0 223.12H10.8 M719.30 223.12H708.50 M0 217.11H10.8 M719.30 217.11H708.50 M0 211.82H10.8 M719.30 211.82H708.50 M0 207.08H21.5 M719.30 207.08H697.80 M0 175.91H10.8 M719.30 175.91H708.50 M0 157.68H10.8 M719.30 157.68H708.50 M0 144.74H10.8 M719.30 144.74H708.50 M0 134.71H10.8 M719.30 134.71H708.50 M0 126.51H10.8 M719.30 126.51H708.50 M0 119.58H10.8 M719.30 119.58H708.50 M0 113.57H10.8 M719.30 113.57H708.50 M0 108.28H10.8 M719.30 108.28H708.50 M0 103.54H21.5 M719.30 103.54H697.80 M0 72.37H10.8 M719.30 72.37H708.50 M0 54.14H10.8 M719.30 54.14H708.50 M0 41.20H10.8 M719.30 41.20H708.50 M0 31.17H10.8 M719.30 31.17H708.50 M0 22.97H10.8 M719.30 22.97H708.50 M0 16.04H10.8 M719.30 16.04H708.50 M0 10.03H10.8 M719.30 10.03H708.50 M0 4.74H10.8 M719.30 4.74H708.50 M4.15 517.70V509.40 M4.15 0V8.30 M19.36 517.70V509.40 M19.36 0V8.30 M34.58 517.70V501.70 M34.58 0V16.00 M49.80 517.70V509.40 M49.80 0V8.30 M65.01 517.70V509.40 M65.01 0V8.30 M80.23 517.70V509.40 M80.23 0V8.30 M95.44 517.70V509.40 M95.44 0V8.30 M110.66 517.70V501.70 M110.66 0V16.00 M125.88 517.70V509.40 M125.88 0V8.30 M141.09 517.70V509.40 M141.09 0V8.30 M156.31 517.70V509.40 M156.31 0V8.30 M171.52 517.70V509.40 M171.52 0V8.30 M186.74 517.70V501.70 M186.74 0V16.00 M201.96 517.70V509.40 M201.96 0V8.30 M217.17 517.70V509.40 M217.17 0V8.30 M232.39 517.70V509.40 M232.39 0V8.30 M247.60 517.70V509.40 M247.60 0V8.30 M262.82 517.70V501.70 M262.82 0V16.00 M278.04 517.70V509.40 M278.04 0V8.30 M293.25 517.70V509.40 M293.25 0V8.30 M308.47 517.70V509.40 M308.47 0V8.30 M323.68 517.70V509.40 M323.68 0V8.30 M338.90 517.70V501.70 M338.90 0V16.00 M354.12 517.70V509.40 M354.12 0V8.30 M369.33 517.70V509.40 M369.33 0V8.30 M384.55 517.70V509.40 M384.55 0V8.30 M399.76 517.70V509.40 M399.76 0V8.30 M414.98 517.70V501.70 M414.98 0V16.00 M430.20 517.70V509.40 M430.20 0V8.30 M445.41 517.70V509.40 M445.41 0V8.30 M460.63 517.70V509.40 M460.63 0V8.30 M475.84 517.70V509.40 M475.84 0V8.30 M491.06 517.70V501.70 M491.06 0V16.00 M506.28 517.70V509.40 M506.28 0V8.30 M521.49 517.70V509.40 M521.49 0V8.30 M536.71 517.70V509.40 M536.71 0V8.30 M551.92 517.70V509.40 M551.92 0V8.30 M567.14 517.70V501.70 M567.14 0V16.00 M582.36 517.70V509.40 M582.36 0V8.30 M597.57 517.70V509.40 M597.57 0V8.30 M612.79 517.70V509.40 M612.79 0V8.30 M628.00 517.70V509.40 M628.00 0V8.30 M643.22 517.70V501.70 M643.22 0V16.00 M658.44 517.70V509.40 M658.44 0V8.30 M673.65 517.70V509.40 M673.65 0V8.30 M688.87 517.70V509.40 M688.87 0V8.30 M704.08 517.70V509.40 M704.08 0V8.30" stroke="#000" stroke-width="1.5" fill="none"/>
<rect x="0" y="0" width="719.30" height="517.70" fill="none" stroke="#000" stroke-width="1.8"/>
</g>
<g font-family="'Liberation Sans', sans-serif" font-size="30" fill="#000"><text x="192.18" y="1258.60" text-anchor="middle">300</text><text x="268.26" y="1258.60" text-anchor="middle">400</text><text x="344.34" y="1258.60" text-anchor="middle">500</text><text x="420.42" y="1258.60" text-anchor="middle">600</text><text x="496.50" y="1258.60" text-anchor="middle">700</text><text x="572.58" y="1258.60" text-anchor="middle">800</text><text x="648.66" y="1258.60" text-anchor="middle">900</text><text x="724.74" y="1258.60" text-anchor="middle">1000</text><text x="800.82" y="1258.60" text-anchor="middle">1100</text><text x="876.90" y="1258.60" text-anchor="middle">1200</text><text x="149.70" y="727.80" text-anchor="end">10<tspan dy="-15.6" font-size="18.5">3</tspan></text><text x="149.70" y="831.06" text-anchor="end">10<tspan dy="-15.6" font-size="18.5">2</tspan></text><text x="150.80" y="931.92" text-anchor="end">10</text><text x="150.80" y="1035.18" text-anchor="end">1</text><text x="149.70" y="1140.84" text-anchor="end">10<tspan dy="-15.6" font-size="18.5">−1</tspan></text><text x="149.70" y="1244.10" text-anchor="end">10<tspan dy="-15.6" font-size="18.5">−2</tspan></text></g>
<text x="6.80" y="702.30" font-family="'Liberation Sans', sans-serif" font-size="34.5" font-weight="bold">C</text>
<text x="878.90" y="1313.30" font-family="'Liberation Sans', sans-serif" font-size="30.4" text-anchor="end">m(H<tspan dy="-14" font-size="21">±±</tspan><tspan dy="14">) [GeV]</tspan></text>
<g transform="translate(64.30 949.00) rotate(-90)" font-family="'Liberation Sans', sans-serif" font-size="30" fill="#000">
<text x="-0.3" y="0">σ(pp</text>
<text x="62.6" y="3.3" font-family="'DejaVu Sans', sans-serif" font-size="37.4" font-weight="200">→</text>
<text x="100.4" y="0">H</text>
<text x="121.4" y="-15" font-size="19.5">++</text>
<text x="144.4" y="0">H</text>
<text x="164.7" y="-17.8" font-size="20.5">--</text>
<text x="179.4" y="0">)</text>
<text x="194.9" y="0">[fb]</text>
</g>
<text x="181.00" y="761.20" font-family="'Liberation Sans', sans-serif" font-size="31" font-weight="bold" font-style="italic">ATLAS</text>
<text transform="translate(183.70 796.50) scale(0.70 1)" font-family="'Liberation Sans', sans-serif" font-size="34.2" style="stroke-width:0">√</text>
<path d="M196.30 770.10h15.2" fill="none" stroke="#000" stroke-width="1.6"/>
<text x="196.50" y="795.00" font-family="'Liberation Sans', sans-serif" font-size="30.6">s = 13 TeV, 36.1 fb<tspan dy="-13" font-size="19.5">-1</tspan></text>
<text x="245.30" y="833.00" font-family="'Liberation Sans', sans-serif" font-size="30.2"><tspan font-style="italic">B</tspan>(<tspan>e</tspan><tspan dy="-12.6" font-size="21">±</tspan><tspan dy="12.6">e</tspan><tspan dy="-12.6" font-size="21">±</tspan><tspan dy="12.6">)=0%</tspan></text>
<text x="245.30" y="871.20" font-family="'Liberation Sans', sans-serif" font-size="30.2"><tspan font-style="italic">B</tspan>(<tspan>e</tspan><tspan dy="-12.6" font-size="21">±</tspan><tspan dy="12.6" font-family="'Liberation Serif', serif" font-size="33">μ</tspan><tspan dy="-12.6" font-size="21">±</tspan><tspan dy="12.6">)=100%</tspan></text>
<text x="245.30" y="911.10" font-family="'Liberation Sans', sans-serif" font-size="30.2"><tspan font-style="italic">B</tspan>(<tspan font-family="'Liberation Serif', serif" font-size="33">μ</tspan><tspan dy="-12.6" font-size="21">±</tspan><tspan dy="12.6" font-family="'Liberation Serif', serif" font-size="33">μ</tspan><tspan dy="-12.6" font-size="21">±</tspan><tspan dy="12.6">)=0%</tspan></text>
<g font-family="'Liberation Sans', sans-serif" font-size="27.5" fill="#000">
<path d="M481.50 761.50H548.00" stroke="#000" stroke-width="1.6"/>
<text x="561.00" y="768.40">Observed 95% CL limit</text>
<path d="M481.50 800.00H548.00" stroke="#000" stroke-width="1.5" stroke-dasharray="3.4 2.8"/>
<text x="561.00" y="807.60">Expected 95% CL limit</text>
<rect x="482.10" y="825.70" width="65.30" height="26.6" fill="#59d354" stroke="#000" stroke-width="1.2"/>
<text x="561.00" y="846.70">Expected limit ± 1σ</text>
<rect x="482.10" y="863.90" width="65.30" height="27.3" fill="#ffff00" stroke="#000" stroke-width="1.2"/>
<text x="561.00" y="885.30">Expected limit ± 2σ</text>
<rect x="481.50" y="903.30" width="66.50" height="26.3" fill="#ffb2b2"/>
<path d="M481.50 916.40H548.00" stroke="#ff0000" stroke-width="2.2"/>
<rect x="481.50" y="942.10" width="66.50" height="26.5" fill="#dcb3b3"/>
<path d="M481.50 955.30H548.00" stroke="#8b0000" stroke-width="2.2"/>
<text x="561.00" y="925.10">σ(pp</text>
<text x="616.90" y="928.20" font-family="'DejaVu Sans', sans-serif" font-size="33" font-weight="200">→</text>
<text x="652.00" y="925.10">H</text>
<text x="671.60" y="911.10" font-size="18">++</text>
<text x="691.30" y="925.10">H</text>
<text x="709.40" y="909.70" font-size="20">--</text>
<text x="723.00" y="925.10">)</text>
<text x="671.20" y="939.30" font-size="16.4">L</text>
<text x="709.70" y="932.50" font-size="16.4">L</text>
<text x="561.00" y="964.00">σ(pp</text>
<text x="616.90" y="967.10" font-family="'DejaVu Sans', sans-serif" font-size="33" font-weight="200">→</text>
<text x="652.00" y="964.00">H</text>
<text x="671.60" y="950.00" font-size="18">++</text>
<text x="691.30" y="964.00">H</text>
<text x="709.40" y="948.60" font-size="20">--</text>
<text x="723.00" y="964.00">)</text>
<text x="671.20" y="978.20" font-size="16.4">R</text>
<text x="709.70" y="971.40" font-size="16.4">R</text>
</g>
<g transform="translate(1093.10 713.20) scale(1 0.99730)">
<clipPath id="clipD"><rect x="0" y="0" width="719.30" height="517.70"/></clipPath>
<g clip-path="url(#clipD)">
<path d="M-2.00 334.26 L34.33 340.07 L71.87 346.07 L110.81 348.68 L149.75 350.68 L186.69 350.68 L225.63 352.68 L262.97 354.68 L301.50 355.28 L339.44 355.28 L352.00 355.08 L415.30 354.68 L491.18 353.68 L567.06 353.28 L643.13 352.68 L721.50 352.68 L721.50 460.81 L643.13 460.81 L567.06 461.41 L491.18 461.41 L415.30 461.81 L352.00 460.81 L339.44 460.81 L301.50 461.41 L262.97 459.81 L225.63 457.81 L186.69 454.20 L149.75 454.20 L110.81 450.80 L71.87 447.39 L34.33 436.78 L-2.00 423.77Z" fill="#ffff00"/>
<path d="M-2.00 357.29 L34.33 363.69 L71.87 370.10 L110.81 372.70 L149.75 374.71 L186.69 374.71 L225.63 376.71 L262.97 378.71 L301.50 379.71 L339.44 379.71 L352.00 379.71 L415.30 379.31 L491.18 378.71 L567.06 378.71 L643.13 378.31 L721.50 378.71 L721.50 435.78 L643.13 435.38 L567.06 435.78 L491.18 435.38 L415.30 435.78 L352.00 435.38 L339.44 435.38 L301.50 436.18 L262.97 434.78 L225.63 432.78 L186.69 430.17 L149.75 430.77 L110.81 427.37 L71.87 424.17 L34.33 415.76 L-2.00 405.74Z" fill="#59d354"/>
<path d="M-4.00 144.25 C-1.33 146.58 6.67 153.70 12.00 158.26 C17.33 162.82 22.67 167.26 28.00 171.61 C33.33 175.95 38.67 180.19 44.00 184.34 C49.33 188.50 54.67 192.55 60.00 196.52 C65.33 200.50 70.67 204.38 76.00 208.19 C81.33 212.00 86.67 215.73 92.00 219.39 C97.33 223.06 102.67 226.65 108.00 230.17 C113.33 233.70 118.67 237.16 124.00 240.57 C129.33 243.97 134.67 247.31 140.00 250.61 C145.33 253.90 150.67 257.14 156.00 260.33 C161.33 263.52 166.67 266.66 172.00 269.75 C177.33 272.85 182.67 275.90 188.00 278.91 C193.33 281.92 198.67 284.89 204.00 287.82 C209.33 290.75 214.67 293.65 220.00 296.51 C225.33 299.37 230.67 302.19 236.00 304.98 C241.33 307.78 246.67 310.54 252.00 313.27 C257.33 316.00 262.67 318.70 268.00 321.37 C273.33 324.04 278.67 326.69 284.00 329.31 C289.33 331.93 294.67 334.52 300.00 337.09 C305.33 339.66 310.67 342.20 316.00 344.72 C321.33 347.24 326.67 349.73 332.00 352.21 C337.33 354.68 342.67 357.13 348.00 359.56 C353.33 361.99 358.67 364.40 364.00 366.79 C369.33 369.17 374.67 371.54 380.00 373.89 C385.33 376.23 390.67 378.56 396.00 380.86 C401.33 383.17 406.67 385.46 412.00 387.72 C417.33 389.99 422.67 392.24 428.00 394.47 C433.33 396.70 438.67 398.91 444.00 401.11 C449.33 403.30 454.67 405.47 460.00 407.63 C465.33 409.79 470.67 411.93 476.00 414.06 C481.33 416.18 486.67 418.29 492.00 420.38 C497.33 422.47 502.67 424.54 508.00 426.61 C513.33 428.67 518.67 430.71 524.00 432.74 C529.33 434.77 534.67 436.79 540.00 438.79 C545.33 440.80 550.67 442.79 556.00 444.77 C561.33 446.75 566.67 448.72 572.00 450.68 C577.33 452.64 582.67 454.58 588.00 456.53 C593.33 458.47 598.67 460.40 604.00 462.33 C609.33 464.26 614.67 466.18 620.00 468.10 C625.33 470.02 630.67 471.94 636.00 473.85 C641.33 475.77 646.67 477.69 652.00 479.61 C657.33 481.53 662.67 483.45 668.00 485.38 C673.33 487.31 678.67 489.25 684.00 491.20 C689.33 493.15 694.67 495.11 700.00 497.08 C705.33 499.06 710.67 501.05 716.00 503.07 C721.33 505.08 729.33 508.16 732.00 509.17 L732.00 522.77 C729.33 521.76 721.33 518.68 716.00 516.67 C710.67 514.65 705.33 512.66 700.00 510.68 C694.67 508.71 689.33 506.75 684.00 504.80 C678.67 502.85 673.33 500.91 668.00 498.98 C662.67 497.05 657.33 495.13 652.00 493.21 C646.67 491.29 641.33 489.37 636.00 487.45 C630.67 485.54 625.33 483.62 620.00 481.70 C614.67 479.78 609.33 477.86 604.00 475.93 C598.67 474.00 593.33 472.07 588.00 470.13 C582.67 468.18 577.33 466.24 572.00 464.28 C566.67 462.32 561.33 460.35 556.00 458.37 C550.67 456.39 545.33 454.40 540.00 452.39 C534.67 450.39 529.33 448.37 524.00 446.34 C518.67 444.31 513.33 442.27 508.00 440.21 C502.67 438.14 497.33 436.07 492.00 433.98 C486.67 431.89 481.33 429.78 476.00 427.66 C470.67 425.53 465.33 423.39 460.00 421.23 C454.67 419.07 449.33 416.90 444.00 414.71 C438.67 412.51 433.33 410.30 428.00 408.07 C422.67 405.84 417.33 403.59 412.00 401.32 C406.67 399.06 401.33 396.77 396.00 394.46 C390.67 392.16 385.33 389.83 380.00 387.49 C374.67 385.14 369.33 382.77 364.00 380.39 C358.67 378.00 353.33 375.59 348.00 373.16 C342.67 370.73 337.33 368.28 332.00 365.81 C326.67 363.33 321.33 360.84 316.00 358.32 C310.67 355.80 305.33 353.26 300.00 350.69 C294.67 348.12 289.33 345.53 284.00 342.91 C278.67 340.29 273.33 337.64 268.00 334.97 C262.67 332.30 257.33 329.60 252.00 326.87 C246.67 324.14 241.33 321.38 236.00 318.58 C230.67 315.79 225.33 312.97 220.00 310.11 C214.67 307.25 209.33 304.35 204.00 301.42 C198.67 298.49 193.33 295.52 188.00 292.51 C182.67 289.50 177.33 286.45 172.00 283.35 C166.67 280.26 161.33 277.12 156.00 273.93 C150.67 270.74 145.33 267.50 140.00 264.21 C134.67 260.91 129.33 257.57 124.00 254.17 C118.67 250.76 113.33 247.30 108.00 243.77 C102.67 240.25 97.33 236.66 92.00 232.99 C86.67 229.33 81.33 225.60 76.00 221.79 C70.67 217.98 65.33 214.10 60.00 210.12 C54.67 206.15 49.33 202.10 44.00 197.94 C38.67 193.79 33.33 189.55 28.00 185.21 C22.67 180.86 17.33 176.42 12.00 171.86 C6.67 167.30 -1.33 160.18 -4.00 157.85Z" fill="#ff0000" fill-opacity="0.3"/>
<path d="M-4.00 151.05 C-1.33 153.38 6.67 160.50 12.00 165.06 C17.33 169.62 22.67 174.06 28.00 178.41 C33.33 182.75 38.67 186.99 44.00 191.14 C49.33 195.30 54.67 199.35 60.00 203.32 C65.33 207.30 70.67 211.18 76.00 214.99 C81.33 218.80 86.67 222.53 92.00 226.19 C97.33 229.86 102.67 233.45 108.00 236.97 C113.33 240.50 118.67 243.96 124.00 247.37 C129.33 250.77 134.67 254.11 140.00 257.41 C145.33 260.70 150.67 263.94 156.00 267.13 C161.33 270.32 166.67 273.46 172.00 276.55 C177.33 279.65 182.67 282.70 188.00 285.71 C193.33 288.72 198.67 291.69 204.00 294.62 C209.33 297.55 214.67 300.45 220.00 303.31 C225.33 306.17 230.67 308.99 236.00 311.78 C241.33 314.58 246.67 317.34 252.00 320.07 C257.33 322.80 262.67 325.50 268.00 328.17 C273.33 330.84 278.67 333.49 284.00 336.11 C289.33 338.73 294.67 341.32 300.00 343.89 C305.33 346.46 310.67 349.00 316.00 351.52 C321.33 354.04 326.67 356.53 332.00 359.01 C337.33 361.48 342.67 363.93 348.00 366.36 C353.33 368.79 358.67 371.20 364.00 373.59 C369.33 375.97 374.67 378.34 380.00 380.69 C385.33 383.03 390.67 385.36 396.00 387.66 C401.33 389.97 406.67 392.26 412.00 394.52 C417.33 396.79 422.67 399.04 428.00 401.27 C433.33 403.50 438.67 405.71 444.00 407.91 C449.33 410.10 454.67 412.27 460.00 414.43 C465.33 416.59 470.67 418.73 476.00 420.86 C481.33 422.98 486.67 425.09 492.00 427.18 C497.33 429.27 502.67 431.34 508.00 433.41 C513.33 435.47 518.67 437.51 524.00 439.54 C529.33 441.57 534.67 443.59 540.00 445.59 C545.33 447.60 550.67 449.59 556.00 451.57 C561.33 453.55 566.67 455.52 572.00 457.48 C577.33 459.44 582.67 461.38 588.00 463.33 C593.33 465.27 598.67 467.20 604.00 469.13 C609.33 471.06 614.67 472.98 620.00 474.90 C625.33 476.82 630.67 478.74 636.00 480.65 C641.33 482.57 646.67 484.49 652.00 486.41 C657.33 488.33 662.67 490.25 668.00 492.18 C673.33 494.11 678.67 496.05 684.00 498.00 C689.33 499.95 694.67 501.91 700.00 503.88 C705.33 505.86 710.67 507.85 716.00 509.87 C721.33 511.88 729.33 514.96 732.00 515.97" fill="none" stroke="#ff0000" stroke-width="2.5"/>
<path d="M-4.00 183.61 C-1.33 186.01 6.67 193.33 12.00 197.97 C17.33 202.62 22.67 207.11 28.00 211.48 C33.33 215.86 38.67 220.09 44.00 224.23 C49.33 228.37 54.67 232.38 60.00 236.31 C65.33 240.24 70.67 244.05 76.00 247.79 C81.33 251.53 86.67 255.17 92.00 258.74 C97.33 262.32 102.67 265.81 108.00 269.24 C113.33 272.66 118.67 276.02 124.00 279.32 C129.33 282.62 134.67 285.85 140.00 289.04 C145.33 292.22 150.67 295.35 156.00 298.44 C161.33 301.53 166.67 304.57 172.00 307.57 C177.33 310.57 182.67 313.52 188.00 316.44 C193.33 319.37 198.67 322.25 204.00 325.10 C209.33 327.96 214.67 330.77 220.00 333.56 C225.33 336.35 230.67 339.11 236.00 341.85 C241.33 344.58 246.67 347.29 252.00 349.97 C257.33 352.65 262.67 355.31 268.00 357.94 C273.33 360.58 278.67 363.19 284.00 365.78 C289.33 368.36 294.67 370.93 300.00 373.48 C305.33 376.02 310.67 378.54 316.00 381.05 C321.33 383.55 326.67 386.03 332.00 388.50 C337.33 390.96 342.67 393.40 348.00 395.82 C353.33 398.24 358.67 400.65 364.00 403.03 C369.33 405.41 374.67 407.77 380.00 410.11 C385.33 412.46 390.67 414.78 396.00 417.08 C401.33 419.38 406.67 421.67 412.00 423.93 C417.33 426.19 422.67 428.44 428.00 430.67 C433.33 432.89 438.67 435.10 444.00 437.29 C449.33 439.48 454.67 441.65 460.00 443.81 C465.33 445.96 470.67 448.10 476.00 450.22 C481.33 452.35 486.67 454.45 492.00 456.55 C497.33 458.64 502.67 460.72 508.00 462.79 C513.33 464.86 518.67 466.92 524.00 468.98 C529.33 471.03 534.67 473.07 540.00 475.11 C545.33 477.15 550.67 479.19 556.00 481.23 C561.33 483.27 566.67 485.30 572.00 487.34 C577.33 489.39 582.67 491.43 588.00 493.50 C593.33 495.56 598.67 497.63 604.00 499.72 C609.33 501.82 614.67 503.92 620.00 506.06 C625.33 508.21 630.67 510.36 636.00 512.57 C641.33 514.77 649.33 518.17 652.00 519.29 L652.00 532.49 C649.33 531.37 641.33 527.97 636.00 525.77 C630.67 523.56 625.33 521.41 620.00 519.26 C614.67 517.12 609.33 515.02 604.00 512.92 C598.67 510.83 593.33 508.76 588.00 506.70 C582.67 504.63 577.33 502.59 572.00 500.54 C566.67 498.50 561.33 496.47 556.00 494.43 C550.67 492.39 545.33 490.35 540.00 488.31 C534.67 486.27 529.33 484.23 524.00 482.18 C518.67 480.12 513.33 478.06 508.00 475.99 C502.67 473.92 497.33 471.84 492.00 469.75 C486.67 467.65 481.33 465.55 476.00 463.42 C470.67 461.30 465.33 459.16 460.00 457.01 C454.67 454.85 449.33 452.68 444.00 450.49 C438.67 448.30 433.33 446.09 428.00 443.87 C422.67 441.64 417.33 439.39 412.00 437.13 C406.67 434.87 401.33 432.58 396.00 430.28 C390.67 427.98 385.33 425.66 380.00 423.31 C374.67 420.97 369.33 418.61 364.00 416.23 C358.67 413.85 353.33 411.44 348.00 409.02 C342.67 406.60 337.33 404.16 332.00 401.70 C326.67 399.23 321.33 396.75 316.00 394.25 C310.67 391.74 305.33 389.22 300.00 386.68 C294.67 384.13 289.33 381.56 284.00 378.98 C278.67 376.39 273.33 373.78 268.00 371.14 C262.67 368.51 257.33 365.85 252.00 363.17 C246.67 360.49 241.33 357.78 236.00 355.05 C230.67 352.31 225.33 349.55 220.00 346.76 C214.67 343.97 209.33 341.16 204.00 338.30 C198.67 335.45 193.33 332.57 188.00 329.64 C182.67 326.72 177.33 323.77 172.00 320.77 C166.67 317.77 161.33 314.73 156.00 311.64 C150.67 308.55 145.33 305.42 140.00 302.24 C134.67 299.05 129.33 295.82 124.00 292.52 C118.67 289.22 113.33 285.86 108.00 282.44 C102.67 279.01 97.33 275.52 92.00 271.94 C86.67 268.37 81.33 264.73 76.00 260.99 C70.67 257.25 65.33 253.44 60.00 249.51 C54.67 245.58 49.33 241.57 44.00 237.43 C38.67 233.29 33.33 229.06 28.00 224.68 C22.67 220.31 17.33 215.82 12.00 211.17 C6.67 206.53 -1.33 199.21 -4.00 196.81Z" fill="#8b0000" fill-opacity="0.3"/>
<path d="M-4.00 190.21 C-1.33 192.61 6.67 199.93 12.00 204.57 C17.33 209.22 22.67 213.71 28.00 218.08 C33.33 222.46 38.67 226.69 44.00 230.83 C49.33 234.97 54.67 238.98 60.00 242.91 C65.33 246.84 70.67 250.65 76.00 254.39 C81.33 258.13 86.67 261.77 92.00 265.34 C97.33 268.92 102.67 272.41 108.00 275.84 C113.33 279.26 118.67 282.62 124.00 285.92 C129.33 289.22 134.67 292.45 140.00 295.64 C145.33 298.82 150.67 301.95 156.00 305.04 C161.33 308.13 166.67 311.17 172.00 314.17 C177.33 317.17 182.67 320.12 188.00 323.04 C193.33 325.97 198.67 328.85 204.00 331.70 C209.33 334.56 214.67 337.37 220.00 340.16 C225.33 342.95 230.67 345.71 236.00 348.45 C241.33 351.18 246.67 353.89 252.00 356.57 C257.33 359.25 262.67 361.91 268.00 364.54 C273.33 367.18 278.67 369.79 284.00 372.38 C289.33 374.96 294.67 377.53 300.00 380.08 C305.33 382.62 310.67 385.14 316.00 387.65 C321.33 390.15 326.67 392.63 332.00 395.10 C337.33 397.56 342.67 400.00 348.00 402.42 C353.33 404.84 358.67 407.25 364.00 409.63 C369.33 412.01 374.67 414.37 380.00 416.71 C385.33 419.06 390.67 421.38 396.00 423.68 C401.33 425.98 406.67 428.27 412.00 430.53 C417.33 432.79 422.67 435.04 428.00 437.27 C433.33 439.49 438.67 441.70 444.00 443.89 C449.33 446.08 454.67 448.25 460.00 450.41 C465.33 452.56 470.67 454.70 476.00 456.82 C481.33 458.95 486.67 461.05 492.00 463.15 C497.33 465.24 502.67 467.32 508.00 469.39 C513.33 471.46 518.67 473.52 524.00 475.58 C529.33 477.63 534.67 479.67 540.00 481.71 C545.33 483.75 550.67 485.79 556.00 487.83 C561.33 489.87 566.67 491.90 572.00 493.94 C577.33 495.99 582.67 498.03 588.00 500.10 C593.33 502.16 598.67 504.23 604.00 506.32 C609.33 508.42 614.67 510.52 620.00 512.66 C625.33 514.81 630.67 516.96 636.00 519.17 C641.33 521.37 649.33 524.77 652.00 525.89" fill="none" stroke="#8b0000" stroke-width="2.5"/>
<path d="M-2.00 383.72 C4.06 384.89 22.02 388.39 34.33 390.73 C46.64 393.06 59.13 396.07 71.87 397.73 C84.62 399.40 97.83 399.90 110.81 400.74 C123.79 401.57 137.10 402.41 149.75 402.74 C162.39 403.07 174.04 402.41 186.69 402.74 C199.33 403.07 212.91 404.08 225.63 404.74 C238.34 405.41 250.32 406.25 262.97 406.75 C275.61 407.25 288.76 407.58 301.50 407.75 C314.25 407.91 331.03 407.75 339.44 407.75 C347.86 407.75 339.36 407.75 352.00 407.75 C364.64 407.75 392.10 407.81 415.30 407.75 C438.49 407.68 465.88 407.35 491.18 407.35 C516.47 407.35 541.73 407.75 567.06 407.75 C592.38 407.75 617.39 407.35 643.13 407.35 C668.87 407.35 708.44 407.68 721.50 407.75" fill="none" stroke="#000" stroke-width="2.4" stroke-dasharray="5 4.8"/>
<path d="M-2.00 372.70 C0.33 373.87 5.91 376.54 11.97 379.71 C18.02 382.88 27.68 388.39 34.33 391.73 C40.99 395.06 45.65 397.40 51.90 399.74 C58.16 402.07 65.22 404.34 71.87 405.74 C78.53 407.15 85.35 407.81 91.84 408.15 C98.33 408.48 104.15 408.05 110.81 407.75 C117.47 407.45 125.29 406.75 131.78 406.35 C138.27 405.94 143.09 405.68 149.75 405.34 C156.40 405.01 165.56 404.44 171.71 404.34 C177.87 404.24 180.86 404.24 186.69 404.74 C192.51 405.24 200.17 406.51 206.66 407.35 C213.15 408.18 218.80 409.12 225.63 409.75 C232.45 410.38 241.37 411.15 247.59 411.15 C253.81 411.15 257.31 410.58 262.97 409.75 C268.62 408.91 275.11 407.21 281.54 406.14 C287.96 405.08 294.85 403.94 301.50 403.34 C308.16 402.74 315.15 402.64 321.47 402.54 C327.80 402.44 334.36 402.64 339.44 402.74 C344.53 402.84 343.25 403.21 352.00 403.14 C360.75 403.07 381.39 402.41 391.94 402.34 C402.49 402.27 405.31 402.61 415.30 402.74 C425.28 402.87 442.42 403.21 451.84 403.14 C461.26 403.07 465.25 402.34 471.81 402.34 C478.36 402.34 485.85 402.57 491.18 403.14 C496.50 403.71 499.33 404.48 503.76 405.74 C508.18 407.01 513.08 409.42 517.73 410.75 C522.39 412.09 526.89 413.09 531.71 413.75 C536.54 414.42 540.80 414.66 546.69 414.76 C552.58 414.86 557.90 414.42 567.06 414.35 C576.21 414.29 588.92 414.52 601.60 414.35 C614.28 414.19 629.82 413.39 643.13 413.35 C656.45 413.32 668.41 414.02 681.47 414.15 C694.53 414.29 714.83 414.15 721.50 414.15" fill="none" stroke="#000" stroke-width="2.4"/>
</g>
<path d="M0 486.53H10.8 M719.30 486.53H708.50 M0 468.30H10.8 M719.30 468.30H708.50 M0 455.36H10.8 M719.30 455.36H708.50 M0 445.33H10.8 M719.30 445.33H708.50 M0 437.13H10.8 M719.30 437.13H708.50 M0 430.20H10.8 M719.30 430.20H708.50 M0 424.19H10.8 M719.30 424.19H708.50 M0 418.90H10.8 M719.30 418.90H708.50 M0 414.16H21.5 M719.30 414.16H697.80 M0 382.99H10.8 M719.30 382.99H708.50 M0 364.76H10.8 M719.30 364.76H708.50 M0 351.82H10.8 M719.30 351.82H708.50 M0 341.79H10.8 M719.30 341.79H708.50 M0 333.59H10.8 M719.30 333.59H708.50 M0 326.66H10.8 M719.30 326.66H708.50 M0 320.65H10.8 M719.30 320.65H708.50 M0 315.36H10.8 M719.30 315.36H708.50 M0 310.62H21.5 M719.30 310.62H697.80 M0 279.45H10.8 M719.30 279.45H708.50 M0 261.22H10.8 M719.30 261.22H708.50 M0 248.28H10.8 M719.30 248.28H708.50 M0 238.25H10.8 M719.30 238.25H708.50 M0 230.05H10.8 M719.30 230.05H708.50 M0 223.12H10.8 M719.30 223.12H708.50 M0 217.11H10.8 M719.30 217.11H708.50 M0 211.82H10.8 M719.30 211.82H708.50 M0 207.08H21.5 M719.30 207.08H697.80 M0 175.91H10.8 M719.30 175.91H708.50 M0 157.68H10.8 M719.30 157.68H708.50 M0 144.74H10.8 M719.30 144.74H708.50 M0 134.71H10.8 M719.30 134.71H708.50 M0 126.51H10.8 M719.30 126.51H708.50 M0 119.58H10.8 M719.30 119.58H708.50 M0 113.57H10.8 M719.30 113.57H708.50 M0 108.28H10.8 M719.30 108.28H708.50 M0 103.54H21.5 M719.30 103.54H697.80 M0 72.37H10.8 M719.30 72.37H708.50 M0 54.14H10.8 M719.30 54.14H708.50 M0 41.20H10.8 M719.30 41.20H708.50 M0 31.17H10.8 M719.30 31.17H708.50 M0 22.97H10.8 M719.30 22.97H708.50 M0 16.04H10.8 M719.30 16.04H708.50 M0 10.03H10.8 M719.30 10.03H708.50 M0 4.74H10.8 M719.30 4.74H708.50 M4.15 517.70V509.40 M4.15 0V8.30 M19.36 517.70V509.40 M19.36 0V8.30 M34.58 517.70V501.70 M34.58 0V16.00 M49.80 517.70V509.40 M49.80 0V8.30 M65.01 517.70V509.40 M65.01 0V8.30 M80.23 517.70V509.40 M80.23 0V8.30 M95.44 517.70V509.40 M95.44 0V8.30 M110.66 517.70V501.70 M110.66 0V16.00 M125.88 517.70V509.40 M125.88 0V8.30 M141.09 517.70V509.40 M141.09 0V8.30 M156.31 517.70V509.40 M156.31 0V8.30 M171.52 517.70V509.40 M171.52 0V8.30 M186.74 517.70V501.70 M186.74 0V16.00 M201.96 517.70V509.40 M201.96 0V8.30 M217.17 517.70V509.40 M217.17 0V8.30 M232.39 517.70V509.40 M232.39 0V8.30 M247.60 517.70V509.40 M247.60 0V8.30 M262.82 517.70V501.70 M262.82 0V16.00 M278.04 517.70V509.40 M278.04 0V8.30 M293.25 517.70V509.40 M293.25 0V8.30 M308.47 517.70V509.40 M308.47 0V8.30 M323.68 517.70V509.40 M323.68 0V8.30 M338.90 517.70V501.70 M338.90 0V16.00 M354.12 517.70V509.40 M354.12 0V8.30 M369.33 517.70V509.40 M369.33 0V8.30 M384.55 517.70V509.40 M384.55 0V8.30 M399.76 517.70V509.40 M399.76 0V8.30 M414.98 517.70V501.70 M414.98 0V16.00 M430.20 517.70V509.40 M430.20 0V8.30 M445.41 517.70V509.40 M445.41 0V8.30 M460.63 517.70V509.40 M460.63 0V8.30 M475.84 517.70V509.40 M475.84 0V8.30 M491.06 517.70V501.70 M491.06 0V16.00 M506.28 517.70V509.40 M506.28 0V8.30 M521.49 517.70V509.40 M521.49 0V8.30 M536.71 517.70V509.40 M536.71 0V8.30 M551.92 517.70V509.40 M551.92 0V8.30 M567.14 517.70V501.70 M567.14 0V16.00 M582.36 517.70V509.40 M582.36 0V8.30 M597.57 517.70V509.40 M597.57 0V8.30 M612.79 517.70V509.40 M612.79 0V8.30 M628.00 517.70V509.40 M628.00 0V8.30 M643.22 517.70V501.70 M643.22 0V16.00 M658.44 517.70V509.40 M658.44 0V8.30 M673.65 517.70V509.40 M673.65 0V8.30 M688.87 517.70V509.40 M688.87 0V8.30 M704.08 517.70V509.40 M704.08 0V8.30" stroke="#000" stroke-width="1.5" fill="none"/>
<rect x="0" y="0" width="719.30" height="517.70" fill="none" stroke="#000" stroke-width="1.8"/>
</g>
<g font-family="'Liberation Sans', sans-serif" font-size="30" fill="#000"><text x="1127.28" y="1258.60" text-anchor="middle">300</text><text x="1203.36" y="1258.60" text-anchor="middle">400</text><text x="1279.44" y="1258.60" text-anchor="middle">500</text><text x="1355.52" y="1258.60" text-anchor="middle">600</text><text x="1431.60" y="1258.60" text-anchor="middle">700</text><text x="1507.68" y="1258.60" text-anchor="middle">800</text><text x="1583.76" y="1258.60" text-anchor="middle">900</text><text x="1659.84" y="1258.60" text-anchor="middle">1000</text><text x="1735.92" y="1258.60" text-anchor="middle">1100</text><text x="1812.00" y="1258.60" text-anchor="middle">1200</text><text x="1084.80" y="727.80" text-anchor="end">10<tspan dy="-15.6" font-size="18.5">3</tspan></text><text x="1084.80" y="831.06" text-anchor="end">10<tspan dy="-15.6" font-size="18.5">2</tspan></text><text x="1085.90" y="931.92" text-anchor="end">10</text><text x="1085.90" y="1035.18" text-anchor="end">1</text><text x="1084.80" y="1140.84" text-anchor="end">10<tspan dy="-15.6" font-size="18.5">−1</tspan></text><text x="1084.80" y="1244.10" text-anchor="end">10<tspan dy="-15.6" font-size="18.5">−2</tspan></text></g>
<text x="941.90" y="702.30" font-family="'Liberation Sans', sans-serif" font-size="34.5" font-weight="bold">D</text>
<text x="1814.00" y="1313.30" font-family="'Liberation Sans', sans-serif" font-size="30.4" text-anchor="end">m(H<tspan dy="-14" font-size="21">±±</tspan><tspan dy="14">) [GeV]</tspan></text>
<g transform="translate(999.40 949.00) rotate(-90)" font-family="'Liberation Sans', sans-serif" font-size="30" fill="#000">
<text x="-0.3" y="0">σ(pp</text>
<text x="62.6" y="3.3" font-family="'DejaVu Sans', sans-serif" font-size="37.4" font-weight="200">→</text>
<text x="100.4" y="0">H</text>
<text x="121.4" y="-15" font-size="19.5">++</text>
<text x="144.4" y="0">H</text>
<text x="164.7" y="-17.8" font-size="20.5">--</text>
<text x="179.4" y="0">)</text>
<text x="194.9" y="0">[fb]</text>
</g>
<text x="1116.10" y="761.20" font-family="'Liberation Sans', sans-serif" font-size="31" font-weight="bold" font-style="italic">ATLAS</text>
<text transform="translate(1118.80 796.50) scale(0.70 1)" font-family="'Liberation Sans', sans-serif" font-size="34.2" style="stroke-width:0">√</text>
<path d="M1131.40 770.10h15.2" fill="none" stroke="#000" stroke-width="1.6"/>
<text x="1131.60" y="795.00" font-family="'Liberation Sans', sans-serif" font-size="30.6">s = 13 TeV, 36.1 fb<tspan dy="-13" font-size="19.5">-1</tspan></text>
<text x="1180.40" y="833.00" font-family="'Liberation Sans', sans-serif" font-size="30.2"><tspan font-style="italic">B</tspan>(<tspan>e</tspan><tspan dy="-12.6" font-size="21">±</tspan><tspan dy="12.6">e</tspan><tspan dy="-12.6" font-size="21">±</tspan><tspan dy="12.6">)=30%</tspan></text>
<text x="1180.40" y="871.20" font-family="'Liberation Sans', sans-serif" font-size="30.2"><tspan font-style="italic">B</tspan>(<tspan>e</tspan><tspan dy="-12.6" font-size="21">±</tspan><tspan dy="12.6" font-family="'Liberation Serif', serif" font-size="33">μ</tspan><tspan dy="-12.6" font-size="21">±</tspan><tspan dy="12.6">)=40%</tspan></text>
<text x="1180.40" y="911.10" font-family="'Liberation Sans', sans-serif" font-size="30.2"><tspan font-style="italic">B</tspan>(<tspan font-family="'Liberation Serif', serif" font-size="33">μ</tspan><tspan dy="-12.6" font-size="21">±</tspan><tspan dy="12.6" font-family="'Liberation Serif', serif" font-size="33">μ</tspan><tspan dy="-12.6" font-size="21">±</tspan><tspan dy="12.6">)=30%</tspan></text>
<g font-family="'Liberation Sans', sans-serif" font-size="27.5" fill="#000">
<path d="M1416.60 761.50H1483.10" stroke="#000" stroke-width="1.6"/>
<text x="1496.10" y="768.40">Observed 95% CL limit</text>
<path d="M1416.60 800.00H1483.10" stroke="#000" stroke-width="1.5" stroke-dasharray="3.4 2.8"/>
<text x="1496.10" y="807.60">Expected 95% CL limit</text>
<rect x="1417.20" y="825.70" width="65.30" height="26.6" fill="#59d354" stroke="#000" stroke-width="1.2"/>
<text x="1496.10" y="846.70">Expected limit ± 1σ</text>
<rect x="1417.20" y="863.90" width="65.30" height="27.3" fill="#ffff00" stroke="#000" stroke-width="1.2"/>
<text x="1496.10" y="885.30">Expected limit ± 2σ</text>
<rect x="1416.60" y="903.30" width="66.50" height="26.3" fill="#ffb2b2"/>
<path d="M1416.60 916.40H1483.10" stroke="#ff0000" stroke-width="2.2"/>
<rect x="1416.60" y="942.10" width="66.50" height="26.5" fill="#dcb3b3"/>
<path d="M1416.60 955.30H1483.10" stroke="#8b0000" stroke-width="2.2"/>
<text x="1496.10" y="925.10">σ(pp</text>
<text x="1552.00" y="928.20" font-family="'DejaVu Sans', sans-serif" font-size="33" font-weight="200">→</text>
<text x="1587.10" y="925.10">H</text>
<text x="1606.70" y="911.10" font-size="18">++</text>
<text x="1626.40" y="925.10">H</text>
<text x="1644.50" y="909.70" font-size="20">--</text>
<text x="1658.10" y="925.10">)</text>
<text x="1606.30" y="939.30" font-size="16.4">L</text>
<text x="1644.80" y="932.50" font-size="16.4">L</text>
<text x="1496.10" y="964.00">σ(pp</text>
<text x="1552.00" y="967.10" font-family="'DejaVu Sans', sans-serif" font-size="33" font-weight="200">→</text>
<text x="1587.10" y="964.00">H</text>
<text x="1606.70" y="950.00" font-size="18">++</text>
<text x="1626.40" y="964.00">H</text>
<text x="1644.50" y="948.60" font-size="20">--</text>
<text x="1658.10" y="964.00">)</text>
<text x="1606.30" y="978.20" font-size="16.4">R</text>
<text x="1644.80" y="971.40" font-size="16.4">R</text>
</g>
</svg></body></html>
